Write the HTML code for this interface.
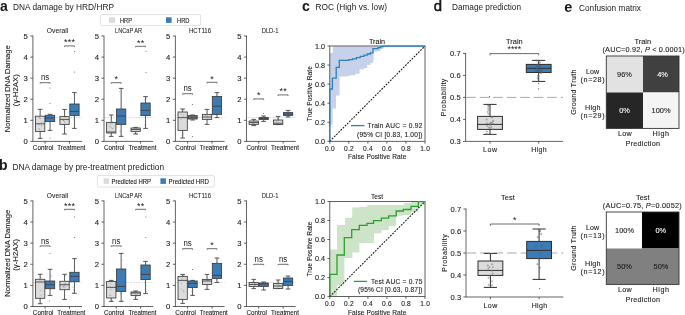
<!DOCTYPE html>
<html><head><meta charset="utf-8"><style>
html,body{margin:0;padding:0;background:#fff;width:685px;height:315px;overflow:hidden}
svg{display:block;will-change:transform;font-family:"Liberation Sans", sans-serif}
</style></head><body>
<svg width="685" height="315" viewBox="0 0 685 315" font-family='"Liberation Sans", sans-serif' fill="#1a1a1a">
<text x="0.00" y="10.80" font-size="14" font-weight="bold">a</text>
<text x="13.00" y="10.40" font-size="8.3" textLength="101" lengthAdjust="spacing">DNA damage by HRD/HRP</text>
<text x="-0.90" y="170.00" font-size="14" font-weight="bold">b</text>
<text x="12.40" y="170.40" font-size="8.3" textLength="151.6" lengthAdjust="spacing">DNA damage by pre-treatment prediction</text>
<text x="302.00" y="10.90" font-size="14.2" font-weight="bold">c</text>
<text x="315.60" y="10.40" font-size="8.3" textLength="71.4" lengthAdjust="spacing">ROC (High vs. low)</text>
<text x="433.70" y="10.50" font-size="14.9" style="stroke:#1a1a1a;stroke-width:0.55">d</text>
<text x="452.00" y="10.40" font-size="8.3" textLength="69" lengthAdjust="spacingAndGlyphs">Damage prediction</text>
<text x="564.20" y="11.90" font-size="14.4" font-weight="bold">e</text>
<text x="579.00" y="10.80" font-size="8.3" textLength="62" lengthAdjust="spacingAndGlyphs">Confusion matrix</text>
<rect x="100.40" y="14.60" width="100.20" height="11.00" fill="#ffffff" stroke="#cccccc" stroke-width="0.6" rx="1.2"/>
<rect x="109.00" y="17.30" width="6.00" height="5.60" fill="#dcdcdc"/>
<text x="120.00" y="22.80" font-size="6.3" stroke="#1a1a1a" stroke-width="0.1" textLength="12" lengthAdjust="spacingAndGlyphs">HRP</text>
<rect x="166.00" y="17.30" width="5.60" height="5.60" fill="#3b7cb6"/>
<text x="177.00" y="22.80" font-size="6.3" stroke="#1a1a1a" stroke-width="0.1" textLength="12.4" lengthAdjust="spacingAndGlyphs">HRD</text>
<rect x="97.40" y="175.60" width="117.00" height="11.40" fill="#ffffff" stroke="#cccccc" stroke-width="0.6" rx="1.2"/>
<rect x="103.60" y="178.30" width="5.40" height="5.60" fill="#dcdcdc"/>
<text x="111.60" y="183.50" font-size="6.5" stroke="#1a1a1a" stroke-width="0.1" textLength="39.4" lengthAdjust="spacingAndGlyphs">Predicted HRP</text>
<rect x="160.40" y="178.30" width="5.50" height="5.60" fill="#3b7cb6"/>
<text x="168.60" y="183.50" font-size="6.5" stroke="#1a1a1a" stroke-width="0.1" textLength="40.4" lengthAdjust="spacingAndGlyphs">Predicted HRD</text>
<text x="9.70" y="88.70" font-size="7.8" stroke="#1a1a1a" stroke-width="0.1" text-anchor="middle" textLength="87" lengthAdjust="spacingAndGlyphs" transform="rotate(-90 9.70 88.70)">Normalized DNA Damage</text>
<text x="17.90" y="90.20" font-size="7.8" stroke="#1a1a1a" stroke-width="0.1" text-anchor="middle" textLength="32" lengthAdjust="spacingAndGlyphs" transform="rotate(-90 17.90 90.20)">(γ-H2AX)</text>
<text x="9.70" y="253.30" font-size="7.8" stroke="#1a1a1a" stroke-width="0.1" text-anchor="middle" textLength="87" lengthAdjust="spacingAndGlyphs" transform="rotate(-90 9.70 253.30)">Normalized DNA Damage</text>
<text x="17.90" y="254.80" font-size="7.8" stroke="#1a1a1a" stroke-width="0.1" text-anchor="middle" textLength="32" lengthAdjust="spacingAndGlyphs" transform="rotate(-90 17.90 254.80)">(γ-H2AX)</text>
<line x1="32.90" y1="35.60" x2="32.90" y2="141.40" stroke="#3c3c3c" stroke-width="0.8"/>
<line x1="32.50" y1="141.40" x2="82.10" y2="141.40" stroke="#3c3c3c" stroke-width="0.8"/>
<line x1="30.30" y1="141.40" x2="32.90" y2="141.40" stroke="#3c3c3c" stroke-width="0.8"/>
<text x="27.90" y="144.25" font-size="7.7" stroke="#1a1a1a" stroke-width="0.1" text-anchor="end">0</text>
<line x1="30.30" y1="120.32" x2="32.90" y2="120.32" stroke="#3c3c3c" stroke-width="0.8"/>
<text x="27.90" y="123.17" font-size="7.7" stroke="#1a1a1a" stroke-width="0.1" text-anchor="end">1</text>
<line x1="30.30" y1="99.24" x2="32.90" y2="99.24" stroke="#3c3c3c" stroke-width="0.8"/>
<text x="27.90" y="102.09" font-size="7.7" stroke="#1a1a1a" stroke-width="0.1" text-anchor="end">2</text>
<line x1="30.30" y1="78.16" x2="32.90" y2="78.16" stroke="#3c3c3c" stroke-width="0.8"/>
<text x="27.90" y="81.01" font-size="7.7" stroke="#1a1a1a" stroke-width="0.1" text-anchor="end">3</text>
<line x1="30.30" y1="57.08" x2="32.90" y2="57.08" stroke="#3c3c3c" stroke-width="0.8"/>
<text x="27.90" y="59.93" font-size="7.7" stroke="#1a1a1a" stroke-width="0.1" text-anchor="end">4</text>
<line x1="30.30" y1="36.00" x2="32.90" y2="36.00" stroke="#3c3c3c" stroke-width="0.8"/>
<text x="27.90" y="38.85" font-size="7.7" stroke="#1a1a1a" stroke-width="0.1" text-anchor="end">5</text>
<line x1="45.10" y1="141.40" x2="45.10" y2="143.60" stroke="#3c3c3c" stroke-width="0.8"/>
<line x1="69.50" y1="141.40" x2="69.50" y2="143.60" stroke="#3c3c3c" stroke-width="0.8"/>
<text x="57.50" y="33.40" font-size="6.9" text-anchor="middle" textLength="21.3" lengthAdjust="spacingAndGlyphs" stroke="#1a1a1a" stroke-width="0.05">Overall</text>
<line x1="33.90" y1="117.50" x2="82.10" y2="117.50" stroke="#c4c4c4" stroke-width="0.7" stroke-dasharray="1.5,1.3"/>
<line x1="40.15" y1="109.30" x2="40.15" y2="116.20" stroke="#3c3c3c" stroke-width="0.85"/>
<line x1="40.15" y1="131.50" x2="40.15" y2="138.40" stroke="#3c3c3c" stroke-width="0.85"/>
<line x1="37.82" y1="109.30" x2="42.47" y2="109.30" stroke="#3c3c3c" stroke-width="0.85"/>
<line x1="37.82" y1="138.40" x2="42.47" y2="138.40" stroke="#3c3c3c" stroke-width="0.85"/>
<rect x="35.50" y="116.20" width="9.30" height="15.30" fill="#dcdcdc" stroke="#3c3c3c" stroke-width="0.85"/>
<line x1="35.50" y1="123.80" x2="44.80" y2="123.80" stroke="#3c3c3c" stroke-width="0.85"/>
<line x1="50.05" y1="114.30" x2="50.05" y2="115.30" stroke="#3c3c3c" stroke-width="0.85"/>
<line x1="50.05" y1="121.60" x2="50.05" y2="130.40" stroke="#3c3c3c" stroke-width="0.85"/>
<line x1="47.72" y1="114.30" x2="52.38" y2="114.30" stroke="#3c3c3c" stroke-width="0.85"/>
<line x1="47.72" y1="130.40" x2="52.38" y2="130.40" stroke="#3c3c3c" stroke-width="0.85"/>
<rect x="45.40" y="115.30" width="9.30" height="6.30" fill="#3b7cb6" stroke="#3c3c3c" stroke-width="0.85"/>
<line x1="45.40" y1="118.00" x2="54.70" y2="118.00" stroke="#3c3c3c" stroke-width="0.85"/>
<circle cx="40.60" cy="118.51" r="0.5" fill="#666" fill-opacity="0.55"/>
<circle cx="39.75" cy="124.40" r="0.5" fill="#666" fill-opacity="0.55"/>
<circle cx="38.76" cy="123.96" r="0.5" fill="#666" fill-opacity="0.55"/>
<circle cx="38.92" cy="117.27" r="0.5" fill="#666" fill-opacity="0.55"/>
<circle cx="39.02" cy="128.85" r="0.5" fill="#666" fill-opacity="0.55"/>
<circle cx="41.49" cy="125.80" r="0.5" fill="#666" fill-opacity="0.55"/>
<circle cx="41.58" cy="122.27" r="0.5" fill="#666" fill-opacity="0.55"/>
<circle cx="39.52" cy="129.33" r="0.5" fill="#666" fill-opacity="0.55"/>
<circle cx="39.58" cy="118.00" r="0.5" fill="#666" fill-opacity="0.55"/>
<circle cx="50.29" cy="114.48" r="0.5" fill="#666" fill-opacity="0.55"/>
<circle cx="50.19" cy="117.65" r="0.5" fill="#666" fill-opacity="0.55"/>
<circle cx="49.17" cy="115.68" r="0.5" fill="#666" fill-opacity="0.55"/>
<circle cx="49.49" cy="117.99" r="0.5" fill="#666" fill-opacity="0.55"/>
<circle cx="49.45" cy="118.16" r="0.5" fill="#666" fill-opacity="0.55"/>
<circle cx="49.28" cy="115.00" r="0.5" fill="#666" fill-opacity="0.55"/>
<circle cx="51.18" cy="118.61" r="0.5" fill="#666" fill-opacity="0.55"/>
<circle cx="51.49" cy="114.59" r="0.5" fill="#666" fill-opacity="0.55"/>
<circle cx="50.82" cy="117.93" r="0.5" fill="#666" fill-opacity="0.55"/>
<line x1="64.55" y1="109.40" x2="64.55" y2="116.60" stroke="#3c3c3c" stroke-width="0.85"/>
<line x1="64.55" y1="124.40" x2="64.55" y2="134.00" stroke="#3c3c3c" stroke-width="0.85"/>
<line x1="62.22" y1="109.40" x2="66.88" y2="109.40" stroke="#3c3c3c" stroke-width="0.85"/>
<line x1="62.22" y1="134.00" x2="66.88" y2="134.00" stroke="#3c3c3c" stroke-width="0.85"/>
<rect x="59.90" y="116.60" width="9.30" height="7.80" fill="#dcdcdc" stroke="#3c3c3c" stroke-width="0.85"/>
<line x1="59.90" y1="119.40" x2="69.20" y2="119.40" stroke="#3c3c3c" stroke-width="0.85"/>
<line x1="74.45" y1="92.60" x2="74.45" y2="104.00" stroke="#3c3c3c" stroke-width="0.85"/>
<line x1="74.45" y1="115.60" x2="74.45" y2="128.40" stroke="#3c3c3c" stroke-width="0.85"/>
<line x1="72.12" y1="92.60" x2="76.77" y2="92.60" stroke="#3c3c3c" stroke-width="0.85"/>
<line x1="72.12" y1="128.40" x2="76.77" y2="128.40" stroke="#3c3c3c" stroke-width="0.85"/>
<rect x="69.80" y="104.00" width="9.30" height="11.60" fill="#3b7cb6" stroke="#3c3c3c" stroke-width="0.85"/>
<line x1="69.80" y1="111.40" x2="79.10" y2="111.40" stroke="#3c3c3c" stroke-width="0.85"/>
<circle cx="63.17" cy="120.41" r="0.5" fill="#666" fill-opacity="0.55"/>
<circle cx="64.77" cy="122.56" r="0.5" fill="#666" fill-opacity="0.55"/>
<circle cx="65.14" cy="127.41" r="0.5" fill="#666" fill-opacity="0.55"/>
<circle cx="64.42" cy="121.12" r="0.5" fill="#666" fill-opacity="0.55"/>
<circle cx="64.47" cy="116.20" r="0.5" fill="#666" fill-opacity="0.55"/>
<circle cx="65.15" cy="117.07" r="0.5" fill="#666" fill-opacity="0.55"/>
<circle cx="65.52" cy="124.35" r="0.5" fill="#666" fill-opacity="0.55"/>
<circle cx="65.06" cy="119.61" r="0.5" fill="#666" fill-opacity="0.55"/>
<circle cx="63.55" cy="120.20" r="0.5" fill="#666" fill-opacity="0.55"/>
<circle cx="75.25" cy="104.68" r="0.5" fill="#666" fill-opacity="0.55"/>
<circle cx="74.12" cy="106.87" r="0.5" fill="#666" fill-opacity="0.55"/>
<circle cx="74.30" cy="116.63" r="0.5" fill="#666" fill-opacity="0.55"/>
<circle cx="75.41" cy="114.25" r="0.5" fill="#666" fill-opacity="0.55"/>
<circle cx="74.20" cy="119.16" r="0.5" fill="#666" fill-opacity="0.55"/>
<circle cx="75.82" cy="114.26" r="0.5" fill="#666" fill-opacity="0.55"/>
<circle cx="73.65" cy="106.04" r="0.5" fill="#666" fill-opacity="0.55"/>
<circle cx="74.72" cy="109.63" r="0.5" fill="#666" fill-opacity="0.55"/>
<circle cx="74.21" cy="104.05" r="0.5" fill="#666" fill-opacity="0.55"/>
<circle cx="50.00" cy="88.00" r="0.5" fill="#555"/>
<circle cx="50.00" cy="103.60" r="0.5" fill="#555"/>
<circle cx="50.00" cy="138.00" r="0.5" fill="#555"/>
<circle cx="74.60" cy="72.00" r="0.5" fill="#555"/>
<circle cx="74.60" cy="51.60" r="0.5" fill="#555"/>
<polyline points="40.15,83.70 40.15,82.70 50.05,82.70 50.05,83.70" fill="none" stroke="#3c3c3c" stroke-width="0.75"/>
<text x="45.10" y="80.30" font-size="8.4" text-anchor="middle" textLength="8.3" lengthAdjust="spacingAndGlyphs">ns</text>
<polyline points="64.55,46.90 64.55,45.90 74.45,45.90 74.45,46.90" fill="none" stroke="#3c3c3c" stroke-width="0.75"/>
<text x="69.50" y="45.40" font-size="9" text-anchor="middle" textLength="11.100000000000001" lengthAdjust="spacing">***</text>
<text x="43.10" y="149.80" font-size="6.3" stroke="#1a1a1a" stroke-width="0.1" text-anchor="middle" textLength="20.6" lengthAdjust="spacing">Control</text>
<text x="71.30" y="149.80" font-size="6.3" stroke="#1a1a1a" stroke-width="0.1" text-anchor="middle" textLength="28" lengthAdjust="spacingAndGlyphs">Treatment</text>
<line x1="104.00" y1="35.60" x2="104.00" y2="141.40" stroke="#3c3c3c" stroke-width="0.8"/>
<line x1="103.60" y1="141.40" x2="153.20" y2="141.40" stroke="#3c3c3c" stroke-width="0.8"/>
<line x1="101.40" y1="141.40" x2="104.00" y2="141.40" stroke="#3c3c3c" stroke-width="0.8"/>
<text x="99.00" y="144.25" font-size="7.7" stroke="#1a1a1a" stroke-width="0.1" text-anchor="end">0</text>
<line x1="101.40" y1="120.32" x2="104.00" y2="120.32" stroke="#3c3c3c" stroke-width="0.8"/>
<text x="99.00" y="123.17" font-size="7.7" stroke="#1a1a1a" stroke-width="0.1" text-anchor="end">1</text>
<line x1="101.40" y1="99.24" x2="104.00" y2="99.24" stroke="#3c3c3c" stroke-width="0.8"/>
<text x="99.00" y="102.09" font-size="7.7" stroke="#1a1a1a" stroke-width="0.1" text-anchor="end">2</text>
<line x1="101.40" y1="78.16" x2="104.00" y2="78.16" stroke="#3c3c3c" stroke-width="0.8"/>
<text x="99.00" y="81.01" font-size="7.7" stroke="#1a1a1a" stroke-width="0.1" text-anchor="end">3</text>
<line x1="101.40" y1="57.08" x2="104.00" y2="57.08" stroke="#3c3c3c" stroke-width="0.8"/>
<text x="99.00" y="59.93" font-size="7.7" stroke="#1a1a1a" stroke-width="0.1" text-anchor="end">4</text>
<line x1="101.40" y1="36.00" x2="104.00" y2="36.00" stroke="#3c3c3c" stroke-width="0.8"/>
<text x="99.00" y="38.85" font-size="7.7" stroke="#1a1a1a" stroke-width="0.1" text-anchor="end">5</text>
<line x1="116.20" y1="141.40" x2="116.20" y2="143.60" stroke="#3c3c3c" stroke-width="0.8"/>
<line x1="140.60" y1="141.40" x2="140.60" y2="143.60" stroke="#3c3c3c" stroke-width="0.8"/>
<text x="128.60" y="33.40" font-size="6.9" text-anchor="middle" textLength="27" lengthAdjust="spacingAndGlyphs" stroke="#1a1a1a" stroke-width="0.05">LNCaP AR</text>
<line x1="105.00" y1="117.50" x2="153.20" y2="117.50" stroke="#c4c4c4" stroke-width="0.7" stroke-dasharray="1.5,1.3"/>
<line x1="111.25" y1="115.00" x2="111.25" y2="122.40" stroke="#3c3c3c" stroke-width="0.85"/>
<line x1="111.25" y1="133.00" x2="111.25" y2="136.40" stroke="#3c3c3c" stroke-width="0.85"/>
<line x1="108.92" y1="115.00" x2="113.58" y2="115.00" stroke="#3c3c3c" stroke-width="0.85"/>
<line x1="108.92" y1="136.40" x2="113.58" y2="136.40" stroke="#3c3c3c" stroke-width="0.85"/>
<rect x="106.60" y="122.40" width="9.30" height="10.60" fill="#dcdcdc" stroke="#3c3c3c" stroke-width="0.85"/>
<line x1="106.60" y1="132.00" x2="115.90" y2="132.00" stroke="#3c3c3c" stroke-width="0.85"/>
<line x1="121.15" y1="88.40" x2="121.15" y2="109.00" stroke="#3c3c3c" stroke-width="0.85"/>
<line x1="121.15" y1="124.40" x2="121.15" y2="136.40" stroke="#3c3c3c" stroke-width="0.85"/>
<line x1="118.83" y1="88.40" x2="123.48" y2="88.40" stroke="#3c3c3c" stroke-width="0.85"/>
<line x1="118.83" y1="136.40" x2="123.48" y2="136.40" stroke="#3c3c3c" stroke-width="0.85"/>
<rect x="116.50" y="109.00" width="9.30" height="15.40" fill="#3b7cb6" stroke="#3c3c3c" stroke-width="0.85"/>
<line x1="116.50" y1="116.00" x2="125.80" y2="116.00" stroke="#3c3c3c" stroke-width="0.85"/>
<circle cx="112.61" cy="128.40" r="0.5" fill="#666" fill-opacity="0.55"/>
<circle cx="111.60" cy="127.86" r="0.5" fill="#666" fill-opacity="0.55"/>
<circle cx="112.45" cy="122.97" r="0.5" fill="#666" fill-opacity="0.55"/>
<circle cx="112.14" cy="121.47" r="0.5" fill="#666" fill-opacity="0.55"/>
<circle cx="110.06" cy="126.63" r="0.5" fill="#666" fill-opacity="0.55"/>
<circle cx="109.95" cy="123.06" r="0.5" fill="#666" fill-opacity="0.55"/>
<circle cx="110.77" cy="124.12" r="0.5" fill="#666" fill-opacity="0.55"/>
<circle cx="110.20" cy="122.40" r="0.5" fill="#666" fill-opacity="0.55"/>
<circle cx="109.83" cy="126.25" r="0.5" fill="#666" fill-opacity="0.55"/>
<circle cx="120.10" cy="131.77" r="0.5" fill="#666" fill-opacity="0.55"/>
<circle cx="120.74" cy="114.35" r="0.5" fill="#666" fill-opacity="0.55"/>
<circle cx="122.63" cy="122.07" r="0.5" fill="#666" fill-opacity="0.55"/>
<circle cx="119.91" cy="116.45" r="0.5" fill="#666" fill-opacity="0.55"/>
<circle cx="120.44" cy="114.28" r="0.5" fill="#666" fill-opacity="0.55"/>
<circle cx="119.72" cy="91.73" r="0.5" fill="#666" fill-opacity="0.55"/>
<circle cx="120.09" cy="130.74" r="0.5" fill="#666" fill-opacity="0.55"/>
<circle cx="121.23" cy="109.42" r="0.5" fill="#666" fill-opacity="0.55"/>
<circle cx="121.74" cy="134.76" r="0.5" fill="#666" fill-opacity="0.55"/>
<line x1="135.65" y1="127.40" x2="135.65" y2="128.00" stroke="#3c3c3c" stroke-width="0.85"/>
<line x1="135.65" y1="131.40" x2="135.65" y2="134.00" stroke="#3c3c3c" stroke-width="0.85"/>
<line x1="133.32" y1="127.40" x2="137.97" y2="127.40" stroke="#3c3c3c" stroke-width="0.85"/>
<line x1="133.32" y1="134.00" x2="137.97" y2="134.00" stroke="#3c3c3c" stroke-width="0.85"/>
<rect x="131.00" y="128.00" width="9.30" height="3.40" fill="#dcdcdc" stroke="#3c3c3c" stroke-width="0.85"/>
<line x1="131.00" y1="129.50" x2="140.30" y2="129.50" stroke="#3c3c3c" stroke-width="0.85"/>
<line x1="145.55" y1="96.60" x2="145.55" y2="103.00" stroke="#3c3c3c" stroke-width="0.85"/>
<line x1="145.55" y1="115.60" x2="145.55" y2="128.40" stroke="#3c3c3c" stroke-width="0.85"/>
<line x1="143.23" y1="96.60" x2="147.88" y2="96.60" stroke="#3c3c3c" stroke-width="0.85"/>
<line x1="143.23" y1="128.40" x2="147.88" y2="128.40" stroke="#3c3c3c" stroke-width="0.85"/>
<rect x="140.90" y="103.00" width="9.30" height="12.60" fill="#3b7cb6" stroke="#3c3c3c" stroke-width="0.85"/>
<line x1="140.90" y1="110.40" x2="150.20" y2="110.40" stroke="#3c3c3c" stroke-width="0.85"/>
<circle cx="134.65" cy="129.25" r="0.5" fill="#666" fill-opacity="0.55"/>
<circle cx="136.49" cy="127.72" r="0.5" fill="#666" fill-opacity="0.55"/>
<circle cx="136.58" cy="128.76" r="0.5" fill="#666" fill-opacity="0.55"/>
<circle cx="136.57" cy="133.62" r="0.5" fill="#666" fill-opacity="0.55"/>
<circle cx="134.83" cy="127.84" r="0.5" fill="#666" fill-opacity="0.55"/>
<circle cx="134.24" cy="129.21" r="0.5" fill="#666" fill-opacity="0.55"/>
<circle cx="134.93" cy="128.95" r="0.5" fill="#666" fill-opacity="0.55"/>
<circle cx="135.49" cy="131.25" r="0.5" fill="#666" fill-opacity="0.55"/>
<circle cx="137.02" cy="133.97" r="0.5" fill="#666" fill-opacity="0.55"/>
<circle cx="144.73" cy="105.78" r="0.5" fill="#666" fill-opacity="0.55"/>
<circle cx="145.92" cy="105.58" r="0.5" fill="#666" fill-opacity="0.55"/>
<circle cx="145.49" cy="126.36" r="0.5" fill="#666" fill-opacity="0.55"/>
<circle cx="144.30" cy="113.08" r="0.5" fill="#666" fill-opacity="0.55"/>
<circle cx="146.40" cy="114.46" r="0.5" fill="#666" fill-opacity="0.55"/>
<circle cx="144.59" cy="99.66" r="0.5" fill="#666" fill-opacity="0.55"/>
<circle cx="146.45" cy="98.73" r="0.5" fill="#666" fill-opacity="0.55"/>
<circle cx="145.25" cy="120.67" r="0.5" fill="#666" fill-opacity="0.55"/>
<circle cx="144.56" cy="124.88" r="0.5" fill="#666" fill-opacity="0.55"/>
<circle cx="146.00" cy="51.40" r="0.5" fill="#555"/>
<circle cx="146.00" cy="72.40" r="0.5" fill="#555"/>
<polyline points="111.25,83.70 111.25,82.70 121.15,82.70 121.15,83.70" fill="none" stroke="#3c3c3c" stroke-width="0.75"/>
<text x="116.20" y="82.20" font-size="9" text-anchor="middle" textLength="3.7" lengthAdjust="spacing">*</text>
<polyline points="135.65,47.30 135.65,46.30 145.55,46.30 145.55,47.30" fill="none" stroke="#3c3c3c" stroke-width="0.75"/>
<text x="140.60" y="45.80" font-size="9" text-anchor="middle" textLength="7.4" lengthAdjust="spacing">**</text>
<text x="114.20" y="149.80" font-size="6.3" stroke="#1a1a1a" stroke-width="0.1" text-anchor="middle" textLength="20.6" lengthAdjust="spacing">Control</text>
<text x="142.40" y="149.80" font-size="6.3" stroke="#1a1a1a" stroke-width="0.1" text-anchor="middle" textLength="28" lengthAdjust="spacingAndGlyphs">Treatment</text>
<line x1="175.40" y1="35.60" x2="175.40" y2="141.40" stroke="#3c3c3c" stroke-width="0.8"/>
<line x1="175.00" y1="141.40" x2="224.60" y2="141.40" stroke="#3c3c3c" stroke-width="0.8"/>
<line x1="172.80" y1="141.40" x2="175.40" y2="141.40" stroke="#3c3c3c" stroke-width="0.8"/>
<text x="170.40" y="144.25" font-size="7.7" stroke="#1a1a1a" stroke-width="0.1" text-anchor="end">0</text>
<line x1="172.80" y1="120.32" x2="175.40" y2="120.32" stroke="#3c3c3c" stroke-width="0.8"/>
<text x="170.40" y="123.17" font-size="7.7" stroke="#1a1a1a" stroke-width="0.1" text-anchor="end">1</text>
<line x1="172.80" y1="99.24" x2="175.40" y2="99.24" stroke="#3c3c3c" stroke-width="0.8"/>
<text x="170.40" y="102.09" font-size="7.7" stroke="#1a1a1a" stroke-width="0.1" text-anchor="end">2</text>
<line x1="172.80" y1="78.16" x2="175.40" y2="78.16" stroke="#3c3c3c" stroke-width="0.8"/>
<text x="170.40" y="81.01" font-size="7.7" stroke="#1a1a1a" stroke-width="0.1" text-anchor="end">3</text>
<line x1="172.80" y1="57.08" x2="175.40" y2="57.08" stroke="#3c3c3c" stroke-width="0.8"/>
<text x="170.40" y="59.93" font-size="7.7" stroke="#1a1a1a" stroke-width="0.1" text-anchor="end">4</text>
<line x1="172.80" y1="36.00" x2="175.40" y2="36.00" stroke="#3c3c3c" stroke-width="0.8"/>
<text x="170.40" y="38.85" font-size="7.7" stroke="#1a1a1a" stroke-width="0.1" text-anchor="end">5</text>
<line x1="187.60" y1="141.40" x2="187.60" y2="143.60" stroke="#3c3c3c" stroke-width="0.8"/>
<line x1="212.00" y1="141.40" x2="212.00" y2="143.60" stroke="#3c3c3c" stroke-width="0.8"/>
<text x="200.00" y="33.40" font-size="6.9" text-anchor="middle" textLength="22" lengthAdjust="spacingAndGlyphs" stroke="#1a1a1a" stroke-width="0.05">HCT116</text>
<line x1="176.40" y1="117.50" x2="224.60" y2="117.50" stroke="#c4c4c4" stroke-width="0.7" stroke-dasharray="1.5,1.3"/>
<line x1="182.65" y1="109.00" x2="182.65" y2="112.00" stroke="#3c3c3c" stroke-width="0.85"/>
<line x1="182.65" y1="130.40" x2="182.65" y2="138.00" stroke="#3c3c3c" stroke-width="0.85"/>
<line x1="180.32" y1="109.00" x2="184.97" y2="109.00" stroke="#3c3c3c" stroke-width="0.85"/>
<line x1="180.32" y1="138.00" x2="184.97" y2="138.00" stroke="#3c3c3c" stroke-width="0.85"/>
<rect x="178.00" y="112.00" width="9.30" height="18.40" fill="#dcdcdc" stroke="#3c3c3c" stroke-width="0.85"/>
<line x1="178.00" y1="117.60" x2="187.30" y2="117.60" stroke="#3c3c3c" stroke-width="0.85"/>
<line x1="192.55" y1="115.00" x2="192.55" y2="115.60" stroke="#3c3c3c" stroke-width="0.85"/>
<line x1="192.55" y1="119.00" x2="192.55" y2="120.00" stroke="#3c3c3c" stroke-width="0.85"/>
<line x1="190.23" y1="115.00" x2="194.88" y2="115.00" stroke="#3c3c3c" stroke-width="0.85"/>
<line x1="190.23" y1="120.00" x2="194.88" y2="120.00" stroke="#3c3c3c" stroke-width="0.85"/>
<rect x="187.90" y="115.60" width="9.30" height="3.40" fill="#7a828c" stroke="#3c3c3c" stroke-width="0.85"/>
<line x1="187.90" y1="117.20" x2="197.20" y2="117.20" stroke="#3c3c3c" stroke-width="0.85"/>
<circle cx="183.86" cy="114.78" r="0.5" fill="#666" fill-opacity="0.55"/>
<circle cx="183.63" cy="109.44" r="0.5" fill="#666" fill-opacity="0.55"/>
<circle cx="182.20" cy="135.40" r="0.5" fill="#666" fill-opacity="0.55"/>
<circle cx="181.19" cy="114.41" r="0.5" fill="#666" fill-opacity="0.55"/>
<circle cx="182.73" cy="135.34" r="0.5" fill="#666" fill-opacity="0.55"/>
<circle cx="183.77" cy="133.70" r="0.5" fill="#666" fill-opacity="0.55"/>
<circle cx="181.91" cy="109.63" r="0.5" fill="#666" fill-opacity="0.55"/>
<circle cx="182.91" cy="116.43" r="0.5" fill="#666" fill-opacity="0.55"/>
<circle cx="181.54" cy="119.71" r="0.5" fill="#666" fill-opacity="0.55"/>
<circle cx="192.42" cy="119.35" r="0.5" fill="#666" fill-opacity="0.55"/>
<circle cx="192.31" cy="118.67" r="0.5" fill="#666" fill-opacity="0.55"/>
<circle cx="192.65" cy="119.50" r="0.5" fill="#666" fill-opacity="0.55"/>
<circle cx="192.37" cy="115.66" r="0.5" fill="#666" fill-opacity="0.55"/>
<circle cx="193.45" cy="115.61" r="0.5" fill="#666" fill-opacity="0.55"/>
<circle cx="193.23" cy="117.21" r="0.5" fill="#666" fill-opacity="0.55"/>
<circle cx="192.61" cy="116.71" r="0.5" fill="#666" fill-opacity="0.55"/>
<circle cx="191.37" cy="118.27" r="0.5" fill="#666" fill-opacity="0.55"/>
<circle cx="191.88" cy="116.44" r="0.5" fill="#666" fill-opacity="0.55"/>
<line x1="207.05" y1="109.40" x2="207.05" y2="114.40" stroke="#3c3c3c" stroke-width="0.85"/>
<line x1="207.05" y1="119.40" x2="207.05" y2="124.40" stroke="#3c3c3c" stroke-width="0.85"/>
<line x1="204.73" y1="109.40" x2="209.38" y2="109.40" stroke="#3c3c3c" stroke-width="0.85"/>
<line x1="204.73" y1="124.40" x2="209.38" y2="124.40" stroke="#3c3c3c" stroke-width="0.85"/>
<rect x="202.40" y="114.40" width="9.30" height="5.00" fill="#dcdcdc" stroke="#3c3c3c" stroke-width="0.85"/>
<line x1="202.40" y1="117.00" x2="211.70" y2="117.00" stroke="#3c3c3c" stroke-width="0.85"/>
<line x1="216.95" y1="92.60" x2="216.95" y2="96.40" stroke="#3c3c3c" stroke-width="0.85"/>
<line x1="216.95" y1="114.40" x2="216.95" y2="117.60" stroke="#3c3c3c" stroke-width="0.85"/>
<line x1="214.62" y1="92.60" x2="219.27" y2="92.60" stroke="#3c3c3c" stroke-width="0.85"/>
<line x1="214.62" y1="117.60" x2="219.27" y2="117.60" stroke="#3c3c3c" stroke-width="0.85"/>
<rect x="212.30" y="96.40" width="9.30" height="18.00" fill="#3b7cb6" stroke="#3c3c3c" stroke-width="0.85"/>
<line x1="212.30" y1="106.20" x2="221.60" y2="106.20" stroke="#3c3c3c" stroke-width="0.85"/>
<circle cx="207.24" cy="111.94" r="0.5" fill="#666" fill-opacity="0.55"/>
<circle cx="206.88" cy="113.96" r="0.5" fill="#666" fill-opacity="0.55"/>
<circle cx="207.09" cy="116.93" r="0.5" fill="#666" fill-opacity="0.55"/>
<circle cx="207.15" cy="116.66" r="0.5" fill="#666" fill-opacity="0.55"/>
<circle cx="207.65" cy="119.11" r="0.5" fill="#666" fill-opacity="0.55"/>
<circle cx="206.33" cy="124.11" r="0.5" fill="#666" fill-opacity="0.55"/>
<circle cx="208.07" cy="119.12" r="0.5" fill="#666" fill-opacity="0.55"/>
<circle cx="206.88" cy="115.01" r="0.5" fill="#666" fill-opacity="0.55"/>
<circle cx="205.77" cy="115.60" r="0.5" fill="#666" fill-opacity="0.55"/>
<circle cx="218.14" cy="110.51" r="0.5" fill="#666" fill-opacity="0.55"/>
<circle cx="217.43" cy="109.29" r="0.5" fill="#666" fill-opacity="0.55"/>
<circle cx="218.35" cy="112.29" r="0.5" fill="#666" fill-opacity="0.55"/>
<circle cx="216.64" cy="113.55" r="0.5" fill="#666" fill-opacity="0.55"/>
<circle cx="217.95" cy="114.22" r="0.5" fill="#666" fill-opacity="0.55"/>
<circle cx="217.00" cy="104.17" r="0.5" fill="#666" fill-opacity="0.55"/>
<circle cx="216.41" cy="99.92" r="0.5" fill="#666" fill-opacity="0.55"/>
<circle cx="217.11" cy="92.67" r="0.5" fill="#666" fill-opacity="0.55"/>
<circle cx="216.44" cy="96.73" r="0.5" fill="#666" fill-opacity="0.55"/>
<circle cx="192.40" cy="104.40" r="0.5" fill="#555"/>
<circle cx="192.40" cy="136.60" r="0.5" fill="#555"/>
<polyline points="182.65,94.70 182.65,93.70 192.55,93.70 192.55,94.70" fill="none" stroke="#3c3c3c" stroke-width="0.75"/>
<text x="187.60" y="91.30" font-size="8.4" text-anchor="middle" textLength="8.3" lengthAdjust="spacingAndGlyphs">ns</text>
<polyline points="207.05,83.30 207.05,82.30 216.95,82.30 216.95,83.30" fill="none" stroke="#3c3c3c" stroke-width="0.75"/>
<text x="212.00" y="81.80" font-size="9" text-anchor="middle" textLength="3.7" lengthAdjust="spacing">*</text>
<text x="185.60" y="149.80" font-size="6.3" stroke="#1a1a1a" stroke-width="0.1" text-anchor="middle" textLength="20.6" lengthAdjust="spacing">Control</text>
<text x="213.80" y="149.80" font-size="6.3" stroke="#1a1a1a" stroke-width="0.1" text-anchor="middle" textLength="28" lengthAdjust="spacingAndGlyphs">Treatment</text>
<line x1="246.50" y1="35.60" x2="246.50" y2="141.40" stroke="#3c3c3c" stroke-width="0.8"/>
<line x1="246.10" y1="141.40" x2="295.70" y2="141.40" stroke="#3c3c3c" stroke-width="0.8"/>
<line x1="243.90" y1="141.40" x2="246.50" y2="141.40" stroke="#3c3c3c" stroke-width="0.8"/>
<text x="241.50" y="144.25" font-size="7.7" stroke="#1a1a1a" stroke-width="0.1" text-anchor="end">0</text>
<line x1="243.90" y1="120.32" x2="246.50" y2="120.32" stroke="#3c3c3c" stroke-width="0.8"/>
<text x="241.50" y="123.17" font-size="7.7" stroke="#1a1a1a" stroke-width="0.1" text-anchor="end">1</text>
<line x1="243.90" y1="99.24" x2="246.50" y2="99.24" stroke="#3c3c3c" stroke-width="0.8"/>
<text x="241.50" y="102.09" font-size="7.7" stroke="#1a1a1a" stroke-width="0.1" text-anchor="end">2</text>
<line x1="243.90" y1="78.16" x2="246.50" y2="78.16" stroke="#3c3c3c" stroke-width="0.8"/>
<text x="241.50" y="81.01" font-size="7.7" stroke="#1a1a1a" stroke-width="0.1" text-anchor="end">3</text>
<line x1="243.90" y1="57.08" x2="246.50" y2="57.08" stroke="#3c3c3c" stroke-width="0.8"/>
<text x="241.50" y="59.93" font-size="7.7" stroke="#1a1a1a" stroke-width="0.1" text-anchor="end">4</text>
<line x1="243.90" y1="36.00" x2="246.50" y2="36.00" stroke="#3c3c3c" stroke-width="0.8"/>
<text x="241.50" y="38.85" font-size="7.7" stroke="#1a1a1a" stroke-width="0.1" text-anchor="end">5</text>
<line x1="258.70" y1="141.40" x2="258.70" y2="143.60" stroke="#3c3c3c" stroke-width="0.8"/>
<line x1="283.10" y1="141.40" x2="283.10" y2="143.60" stroke="#3c3c3c" stroke-width="0.8"/>
<text x="270.10" y="33.40" font-size="6.9" text-anchor="middle" textLength="16.8" lengthAdjust="spacingAndGlyphs" stroke="#1a1a1a" stroke-width="0.05">DLD-1</text>
<line x1="247.50" y1="117.50" x2="295.70" y2="117.50" stroke="#c4c4c4" stroke-width="0.7" stroke-dasharray="1.5,1.3"/>
<line x1="253.75" y1="119.40" x2="253.75" y2="121.00" stroke="#3c3c3c" stroke-width="0.85"/>
<line x1="253.75" y1="124.40" x2="253.75" y2="125.60" stroke="#3c3c3c" stroke-width="0.85"/>
<line x1="251.43" y1="119.40" x2="256.07" y2="119.40" stroke="#3c3c3c" stroke-width="0.85"/>
<line x1="251.43" y1="125.60" x2="256.07" y2="125.60" stroke="#3c3c3c" stroke-width="0.85"/>
<rect x="249.10" y="121.00" width="9.30" height="3.40" fill="#dcdcdc" stroke="#3c3c3c" stroke-width="0.85"/>
<line x1="249.10" y1="122.50" x2="258.40" y2="122.50" stroke="#3c3c3c" stroke-width="0.85"/>
<line x1="263.65" y1="116.00" x2="263.65" y2="117.60" stroke="#3c3c3c" stroke-width="0.85"/>
<line x1="263.65" y1="119.40" x2="263.65" y2="121.40" stroke="#3c3c3c" stroke-width="0.85"/>
<line x1="261.32" y1="116.00" x2="265.97" y2="116.00" stroke="#3c3c3c" stroke-width="0.85"/>
<line x1="261.32" y1="121.40" x2="265.97" y2="121.40" stroke="#3c3c3c" stroke-width="0.85"/>
<rect x="259.00" y="117.60" width="9.30" height="1.80" fill="#3b7cb6" stroke="#3c3c3c" stroke-width="0.85"/>
<line x1="259.00" y1="118.50" x2="268.30" y2="118.50" stroke="#3c3c3c" stroke-width="0.85"/>
<circle cx="252.44" cy="122.74" r="0.5" fill="#666" fill-opacity="0.55"/>
<circle cx="255.17" cy="125.35" r="0.5" fill="#666" fill-opacity="0.55"/>
<circle cx="252.37" cy="121.90" r="0.5" fill="#666" fill-opacity="0.55"/>
<circle cx="252.64" cy="119.83" r="0.5" fill="#666" fill-opacity="0.55"/>
<circle cx="254.71" cy="124.10" r="0.5" fill="#666" fill-opacity="0.55"/>
<circle cx="255.01" cy="121.51" r="0.5" fill="#666" fill-opacity="0.55"/>
<circle cx="252.52" cy="123.38" r="0.5" fill="#666" fill-opacity="0.55"/>
<circle cx="253.53" cy="123.34" r="0.5" fill="#666" fill-opacity="0.55"/>
<circle cx="254.15" cy="124.19" r="0.5" fill="#666" fill-opacity="0.55"/>
<circle cx="264.72" cy="116.13" r="0.5" fill="#666" fill-opacity="0.55"/>
<circle cx="263.51" cy="119.15" r="0.5" fill="#666" fill-opacity="0.55"/>
<circle cx="264.93" cy="118.60" r="0.5" fill="#666" fill-opacity="0.55"/>
<circle cx="263.73" cy="117.83" r="0.5" fill="#666" fill-opacity="0.55"/>
<circle cx="262.63" cy="117.80" r="0.5" fill="#666" fill-opacity="0.55"/>
<circle cx="263.09" cy="117.96" r="0.5" fill="#666" fill-opacity="0.55"/>
<circle cx="263.02" cy="118.97" r="0.5" fill="#666" fill-opacity="0.55"/>
<circle cx="263.19" cy="117.92" r="0.5" fill="#666" fill-opacity="0.55"/>
<circle cx="262.20" cy="118.05" r="0.5" fill="#666" fill-opacity="0.55"/>
<line x1="278.15" y1="116.40" x2="278.15" y2="120.00" stroke="#3c3c3c" stroke-width="0.85"/>
<line x1="278.15" y1="124.40" x2="278.15" y2="124.60" stroke="#3c3c3c" stroke-width="0.85"/>
<line x1="275.82" y1="116.40" x2="280.47" y2="116.40" stroke="#3c3c3c" stroke-width="0.85"/>
<line x1="275.82" y1="124.60" x2="280.47" y2="124.60" stroke="#3c3c3c" stroke-width="0.85"/>
<rect x="273.50" y="120.00" width="9.30" height="4.40" fill="#dcdcdc" stroke="#3c3c3c" stroke-width="0.85"/>
<line x1="273.50" y1="123.20" x2="282.80" y2="123.20" stroke="#3c3c3c" stroke-width="0.85"/>
<line x1="288.05" y1="110.40" x2="288.05" y2="112.60" stroke="#3c3c3c" stroke-width="0.85"/>
<line x1="288.05" y1="115.40" x2="288.05" y2="117.00" stroke="#3c3c3c" stroke-width="0.85"/>
<line x1="285.72" y1="110.40" x2="290.37" y2="110.40" stroke="#3c3c3c" stroke-width="0.85"/>
<line x1="285.72" y1="117.00" x2="290.37" y2="117.00" stroke="#3c3c3c" stroke-width="0.85"/>
<rect x="283.40" y="112.60" width="9.30" height="2.80" fill="#3b7cb6" stroke="#3c3c3c" stroke-width="0.85"/>
<line x1="283.40" y1="114.00" x2="292.70" y2="114.00" stroke="#3c3c3c" stroke-width="0.85"/>
<circle cx="277.22" cy="118.38" r="0.5" fill="#666" fill-opacity="0.55"/>
<circle cx="276.97" cy="124.11" r="0.5" fill="#666" fill-opacity="0.55"/>
<circle cx="278.14" cy="117.96" r="0.5" fill="#666" fill-opacity="0.55"/>
<circle cx="278.17" cy="117.82" r="0.5" fill="#666" fill-opacity="0.55"/>
<circle cx="277.68" cy="124.32" r="0.5" fill="#666" fill-opacity="0.55"/>
<circle cx="278.56" cy="118.94" r="0.5" fill="#666" fill-opacity="0.55"/>
<circle cx="276.81" cy="121.53" r="0.5" fill="#666" fill-opacity="0.55"/>
<circle cx="278.87" cy="120.31" r="0.5" fill="#666" fill-opacity="0.55"/>
<circle cx="276.90" cy="120.72" r="0.5" fill="#666" fill-opacity="0.55"/>
<circle cx="288.56" cy="112.32" r="0.5" fill="#666" fill-opacity="0.55"/>
<circle cx="287.43" cy="113.28" r="0.5" fill="#666" fill-opacity="0.55"/>
<circle cx="287.89" cy="113.04" r="0.5" fill="#666" fill-opacity="0.55"/>
<circle cx="289.47" cy="115.29" r="0.5" fill="#666" fill-opacity="0.55"/>
<circle cx="289.45" cy="113.28" r="0.5" fill="#666" fill-opacity="0.55"/>
<circle cx="286.55" cy="113.60" r="0.5" fill="#666" fill-opacity="0.55"/>
<circle cx="288.06" cy="113.93" r="0.5" fill="#666" fill-opacity="0.55"/>
<circle cx="286.56" cy="114.01" r="0.5" fill="#666" fill-opacity="0.55"/>
<circle cx="287.75" cy="112.85" r="0.5" fill="#666" fill-opacity="0.55"/>
<circle cx="263.40" cy="113.60" r="0.5" fill="#555"/>
<polyline points="253.75,99.90 253.75,98.90 263.65,98.90 263.65,99.90" fill="none" stroke="#3c3c3c" stroke-width="0.75"/>
<text x="258.70" y="98.40" font-size="9" text-anchor="middle" textLength="3.7" lengthAdjust="spacing">*</text>
<polyline points="278.15,95.90 278.15,94.90 288.05,94.90 288.05,95.90" fill="none" stroke="#3c3c3c" stroke-width="0.75"/>
<text x="283.10" y="94.40" font-size="9" text-anchor="middle" textLength="7.4" lengthAdjust="spacing">**</text>
<text x="256.70" y="149.80" font-size="6.3" stroke="#1a1a1a" stroke-width="0.1" text-anchor="middle" textLength="20.6" lengthAdjust="spacing">Control</text>
<text x="284.90" y="149.80" font-size="6.3" stroke="#1a1a1a" stroke-width="0.1" text-anchor="middle" textLength="28" lengthAdjust="spacingAndGlyphs">Treatment</text>
<line x1="32.90" y1="200.50" x2="32.90" y2="306.50" stroke="#3c3c3c" stroke-width="0.8"/>
<line x1="32.50" y1="306.50" x2="82.10" y2="306.50" stroke="#3c3c3c" stroke-width="0.8"/>
<line x1="30.30" y1="306.50" x2="32.90" y2="306.50" stroke="#3c3c3c" stroke-width="0.8"/>
<text x="27.90" y="309.35" font-size="7.7" stroke="#1a1a1a" stroke-width="0.1" text-anchor="end">0</text>
<line x1="30.30" y1="285.38" x2="32.90" y2="285.38" stroke="#3c3c3c" stroke-width="0.8"/>
<text x="27.90" y="288.23" font-size="7.7" stroke="#1a1a1a" stroke-width="0.1" text-anchor="end">1</text>
<line x1="30.30" y1="264.26" x2="32.90" y2="264.26" stroke="#3c3c3c" stroke-width="0.8"/>
<text x="27.90" y="267.11" font-size="7.7" stroke="#1a1a1a" stroke-width="0.1" text-anchor="end">2</text>
<line x1="30.30" y1="243.14" x2="32.90" y2="243.14" stroke="#3c3c3c" stroke-width="0.8"/>
<text x="27.90" y="245.99" font-size="7.7" stroke="#1a1a1a" stroke-width="0.1" text-anchor="end">3</text>
<line x1="30.30" y1="222.02" x2="32.90" y2="222.02" stroke="#3c3c3c" stroke-width="0.8"/>
<text x="27.90" y="224.87" font-size="7.7" stroke="#1a1a1a" stroke-width="0.1" text-anchor="end">4</text>
<line x1="30.30" y1="200.90" x2="32.90" y2="200.90" stroke="#3c3c3c" stroke-width="0.8"/>
<text x="27.90" y="203.75" font-size="7.7" stroke="#1a1a1a" stroke-width="0.1" text-anchor="end">5</text>
<line x1="45.10" y1="306.50" x2="45.10" y2="308.70" stroke="#3c3c3c" stroke-width="0.8"/>
<line x1="69.50" y1="306.50" x2="69.50" y2="308.70" stroke="#3c3c3c" stroke-width="0.8"/>
<text x="57.50" y="198.20" font-size="6.9" text-anchor="middle" textLength="21.3" lengthAdjust="spacingAndGlyphs" stroke="#1a1a1a" stroke-width="0.05">Overall</text>
<line x1="33.90" y1="282.50" x2="82.10" y2="282.50" stroke="#c4c4c4" stroke-width="0.7" stroke-dasharray="1.5,1.3"/>
<line x1="40.15" y1="274.30" x2="40.15" y2="279.30" stroke="#3c3c3c" stroke-width="0.85"/>
<line x1="40.15" y1="298.30" x2="40.15" y2="303.70" stroke="#3c3c3c" stroke-width="0.85"/>
<line x1="37.82" y1="274.30" x2="42.47" y2="274.30" stroke="#3c3c3c" stroke-width="0.85"/>
<line x1="37.82" y1="303.70" x2="42.47" y2="303.70" stroke="#3c3c3c" stroke-width="0.85"/>
<rect x="35.50" y="279.30" width="9.30" height="19.00" fill="#dcdcdc" stroke="#3c3c3c" stroke-width="0.85"/>
<line x1="35.50" y1="282.00" x2="44.80" y2="282.00" stroke="#3c3c3c" stroke-width="0.85"/>
<line x1="50.05" y1="269.30" x2="50.05" y2="281.00" stroke="#3c3c3c" stroke-width="0.85"/>
<line x1="50.05" y1="288.70" x2="50.05" y2="295.40" stroke="#3c3c3c" stroke-width="0.85"/>
<line x1="47.72" y1="269.30" x2="52.38" y2="269.30" stroke="#3c3c3c" stroke-width="0.85"/>
<line x1="47.72" y1="295.40" x2="52.38" y2="295.40" stroke="#3c3c3c" stroke-width="0.85"/>
<rect x="45.40" y="281.00" width="9.30" height="7.70" fill="#3b7cb6" stroke="#3c3c3c" stroke-width="0.85"/>
<line x1="45.40" y1="284.70" x2="54.70" y2="284.70" stroke="#3c3c3c" stroke-width="0.85"/>
<circle cx="39.56" cy="279.73" r="0.5" fill="#666" fill-opacity="0.55"/>
<circle cx="40.24" cy="290.43" r="0.5" fill="#666" fill-opacity="0.55"/>
<circle cx="40.80" cy="277.59" r="0.5" fill="#666" fill-opacity="0.55"/>
<circle cx="39.63" cy="300.40" r="0.5" fill="#666" fill-opacity="0.55"/>
<circle cx="40.82" cy="299.11" r="0.5" fill="#666" fill-opacity="0.55"/>
<circle cx="41.16" cy="280.13" r="0.5" fill="#666" fill-opacity="0.55"/>
<circle cx="40.85" cy="301.69" r="0.5" fill="#666" fill-opacity="0.55"/>
<circle cx="40.22" cy="275.00" r="0.5" fill="#666" fill-opacity="0.55"/>
<circle cx="41.06" cy="295.16" r="0.5" fill="#666" fill-opacity="0.55"/>
<circle cx="51.23" cy="276.13" r="0.5" fill="#666" fill-opacity="0.55"/>
<circle cx="49.24" cy="286.34" r="0.5" fill="#666" fill-opacity="0.55"/>
<circle cx="49.63" cy="282.02" r="0.5" fill="#666" fill-opacity="0.55"/>
<circle cx="50.23" cy="287.44" r="0.5" fill="#666" fill-opacity="0.55"/>
<circle cx="50.59" cy="285.82" r="0.5" fill="#666" fill-opacity="0.55"/>
<circle cx="50.94" cy="281.03" r="0.5" fill="#666" fill-opacity="0.55"/>
<circle cx="50.16" cy="275.18" r="0.5" fill="#666" fill-opacity="0.55"/>
<circle cx="50.76" cy="281.51" r="0.5" fill="#666" fill-opacity="0.55"/>
<circle cx="49.35" cy="281.57" r="0.5" fill="#666" fill-opacity="0.55"/>
<line x1="64.55" y1="274.30" x2="64.55" y2="281.30" stroke="#3c3c3c" stroke-width="0.85"/>
<line x1="64.55" y1="289.70" x2="64.55" y2="299.40" stroke="#3c3c3c" stroke-width="0.85"/>
<line x1="62.22" y1="274.30" x2="66.88" y2="274.30" stroke="#3c3c3c" stroke-width="0.85"/>
<line x1="62.22" y1="299.40" x2="66.88" y2="299.40" stroke="#3c3c3c" stroke-width="0.85"/>
<rect x="59.90" y="281.30" width="9.30" height="8.40" fill="#dcdcdc" stroke="#3c3c3c" stroke-width="0.85"/>
<line x1="59.90" y1="284.70" x2="69.20" y2="284.70" stroke="#3c3c3c" stroke-width="0.85"/>
<line x1="74.45" y1="258.60" x2="74.45" y2="272.30" stroke="#3c3c3c" stroke-width="0.85"/>
<line x1="74.45" y1="281.70" x2="74.45" y2="293.30" stroke="#3c3c3c" stroke-width="0.85"/>
<line x1="72.12" y1="258.60" x2="76.77" y2="258.60" stroke="#3c3c3c" stroke-width="0.85"/>
<line x1="72.12" y1="293.30" x2="76.77" y2="293.30" stroke="#3c3c3c" stroke-width="0.85"/>
<rect x="69.80" y="272.30" width="9.30" height="9.40" fill="#3b7cb6" stroke="#3c3c3c" stroke-width="0.85"/>
<line x1="69.80" y1="276.30" x2="79.10" y2="276.30" stroke="#3c3c3c" stroke-width="0.85"/>
<circle cx="65.27" cy="275.74" r="0.5" fill="#666" fill-opacity="0.55"/>
<circle cx="64.20" cy="294.49" r="0.5" fill="#666" fill-opacity="0.55"/>
<circle cx="65.35" cy="287.04" r="0.5" fill="#666" fill-opacity="0.55"/>
<circle cx="63.28" cy="286.70" r="0.5" fill="#666" fill-opacity="0.55"/>
<circle cx="65.28" cy="283.43" r="0.5" fill="#666" fill-opacity="0.55"/>
<circle cx="63.09" cy="286.07" r="0.5" fill="#666" fill-opacity="0.55"/>
<circle cx="65.07" cy="283.56" r="0.5" fill="#666" fill-opacity="0.55"/>
<circle cx="63.92" cy="286.98" r="0.5" fill="#666" fill-opacity="0.55"/>
<circle cx="64.45" cy="285.20" r="0.5" fill="#666" fill-opacity="0.55"/>
<circle cx="73.55" cy="280.70" r="0.5" fill="#666" fill-opacity="0.55"/>
<circle cx="73.00" cy="292.56" r="0.5" fill="#666" fill-opacity="0.55"/>
<circle cx="75.85" cy="280.01" r="0.5" fill="#666" fill-opacity="0.55"/>
<circle cx="73.58" cy="274.83" r="0.5" fill="#666" fill-opacity="0.55"/>
<circle cx="74.69" cy="284.14" r="0.5" fill="#666" fill-opacity="0.55"/>
<circle cx="75.81" cy="277.23" r="0.5" fill="#666" fill-opacity="0.55"/>
<circle cx="74.48" cy="280.01" r="0.5" fill="#666" fill-opacity="0.55"/>
<circle cx="73.64" cy="289.86" r="0.5" fill="#666" fill-opacity="0.55"/>
<circle cx="73.02" cy="287.34" r="0.5" fill="#666" fill-opacity="0.55"/>
<circle cx="50.00" cy="253.40" r="0.5" fill="#555"/>
<circle cx="74.40" cy="217.00" r="0.5" fill="#555"/>
<circle cx="74.40" cy="237.40" r="0.5" fill="#555"/>
<circle cx="49.30" cy="301.00" r="0.5" fill="#555"/>
<polyline points="40.15,246.90 40.15,245.90 50.05,245.90 50.05,246.90" fill="none" stroke="#3c3c3c" stroke-width="0.75"/>
<text x="45.10" y="243.50" font-size="8.4" text-anchor="middle" textLength="8.3" lengthAdjust="spacingAndGlyphs">ns</text>
<polyline points="64.55,210.30 64.55,209.30 74.45,209.30 74.45,210.30" fill="none" stroke="#3c3c3c" stroke-width="0.75"/>
<text x="69.50" y="208.80" font-size="9" text-anchor="middle" textLength="11.100000000000001" lengthAdjust="spacing">***</text>
<text x="43.10" y="315.40" font-size="6.3" stroke="#1a1a1a" stroke-width="0.1" text-anchor="middle" textLength="20.6" lengthAdjust="spacing">Control</text>
<text x="71.30" y="315.40" font-size="6.3" stroke="#1a1a1a" stroke-width="0.1" text-anchor="middle" textLength="28" lengthAdjust="spacingAndGlyphs">Treatment</text>
<line x1="104.00" y1="200.50" x2="104.00" y2="306.50" stroke="#3c3c3c" stroke-width="0.8"/>
<line x1="103.60" y1="306.50" x2="153.20" y2="306.50" stroke="#3c3c3c" stroke-width="0.8"/>
<line x1="101.40" y1="306.50" x2="104.00" y2="306.50" stroke="#3c3c3c" stroke-width="0.8"/>
<text x="99.00" y="309.35" font-size="7.7" stroke="#1a1a1a" stroke-width="0.1" text-anchor="end">0</text>
<line x1="101.40" y1="285.38" x2="104.00" y2="285.38" stroke="#3c3c3c" stroke-width="0.8"/>
<text x="99.00" y="288.23" font-size="7.7" stroke="#1a1a1a" stroke-width="0.1" text-anchor="end">1</text>
<line x1="101.40" y1="264.26" x2="104.00" y2="264.26" stroke="#3c3c3c" stroke-width="0.8"/>
<text x="99.00" y="267.11" font-size="7.7" stroke="#1a1a1a" stroke-width="0.1" text-anchor="end">2</text>
<line x1="101.40" y1="243.14" x2="104.00" y2="243.14" stroke="#3c3c3c" stroke-width="0.8"/>
<text x="99.00" y="245.99" font-size="7.7" stroke="#1a1a1a" stroke-width="0.1" text-anchor="end">3</text>
<line x1="101.40" y1="222.02" x2="104.00" y2="222.02" stroke="#3c3c3c" stroke-width="0.8"/>
<text x="99.00" y="224.87" font-size="7.7" stroke="#1a1a1a" stroke-width="0.1" text-anchor="end">4</text>
<line x1="101.40" y1="200.90" x2="104.00" y2="200.90" stroke="#3c3c3c" stroke-width="0.8"/>
<text x="99.00" y="203.75" font-size="7.7" stroke="#1a1a1a" stroke-width="0.1" text-anchor="end">5</text>
<line x1="116.20" y1="306.50" x2="116.20" y2="308.70" stroke="#3c3c3c" stroke-width="0.8"/>
<line x1="140.60" y1="306.50" x2="140.60" y2="308.70" stroke="#3c3c3c" stroke-width="0.8"/>
<text x="128.60" y="198.20" font-size="6.9" text-anchor="middle" textLength="27" lengthAdjust="spacingAndGlyphs" stroke="#1a1a1a" stroke-width="0.05">LNCaP AR</text>
<line x1="105.00" y1="282.50" x2="153.20" y2="282.50" stroke="#c4c4c4" stroke-width="0.7" stroke-dasharray="1.5,1.3"/>
<line x1="111.25" y1="280.40" x2="111.25" y2="281.40" stroke="#3c3c3c" stroke-width="0.85"/>
<line x1="111.25" y1="298.00" x2="111.25" y2="301.40" stroke="#3c3c3c" stroke-width="0.85"/>
<line x1="108.92" y1="280.40" x2="113.58" y2="280.40" stroke="#3c3c3c" stroke-width="0.85"/>
<line x1="108.92" y1="301.40" x2="113.58" y2="301.40" stroke="#3c3c3c" stroke-width="0.85"/>
<rect x="106.60" y="281.40" width="9.30" height="16.60" fill="#dcdcdc" stroke="#3c3c3c" stroke-width="0.85"/>
<line x1="106.60" y1="287.40" x2="115.90" y2="287.40" stroke="#3c3c3c" stroke-width="0.85"/>
<line x1="121.15" y1="253.40" x2="121.15" y2="269.00" stroke="#3c3c3c" stroke-width="0.85"/>
<line x1="121.15" y1="291.40" x2="121.15" y2="301.40" stroke="#3c3c3c" stroke-width="0.85"/>
<line x1="118.83" y1="253.40" x2="123.48" y2="253.40" stroke="#3c3c3c" stroke-width="0.85"/>
<line x1="118.83" y1="301.40" x2="123.48" y2="301.40" stroke="#3c3c3c" stroke-width="0.85"/>
<rect x="116.50" y="269.00" width="9.30" height="22.40" fill="#3b7cb6" stroke="#3c3c3c" stroke-width="0.85"/>
<line x1="116.50" y1="286.40" x2="125.80" y2="286.40" stroke="#3c3c3c" stroke-width="0.85"/>
<circle cx="111.10" cy="289.56" r="0.5" fill="#666" fill-opacity="0.55"/>
<circle cx="110.78" cy="283.74" r="0.5" fill="#666" fill-opacity="0.55"/>
<circle cx="109.76" cy="295.35" r="0.5" fill="#666" fill-opacity="0.55"/>
<circle cx="110.11" cy="281.24" r="0.5" fill="#666" fill-opacity="0.55"/>
<circle cx="112.45" cy="300.42" r="0.5" fill="#666" fill-opacity="0.55"/>
<circle cx="110.93" cy="287.58" r="0.5" fill="#666" fill-opacity="0.55"/>
<circle cx="110.83" cy="300.00" r="0.5" fill="#666" fill-opacity="0.55"/>
<circle cx="109.89" cy="285.97" r="0.5" fill="#666" fill-opacity="0.55"/>
<circle cx="110.61" cy="295.26" r="0.5" fill="#666" fill-opacity="0.55"/>
<circle cx="120.45" cy="293.89" r="0.5" fill="#666" fill-opacity="0.55"/>
<circle cx="120.77" cy="273.25" r="0.5" fill="#666" fill-opacity="0.55"/>
<circle cx="122.09" cy="300.24" r="0.5" fill="#666" fill-opacity="0.55"/>
<circle cx="122.47" cy="289.46" r="0.5" fill="#666" fill-opacity="0.55"/>
<circle cx="119.80" cy="285.12" r="0.5" fill="#666" fill-opacity="0.55"/>
<circle cx="121.91" cy="260.43" r="0.5" fill="#666" fill-opacity="0.55"/>
<circle cx="119.80" cy="275.41" r="0.5" fill="#666" fill-opacity="0.55"/>
<circle cx="121.07" cy="292.67" r="0.5" fill="#666" fill-opacity="0.55"/>
<circle cx="121.87" cy="275.67" r="0.5" fill="#666" fill-opacity="0.55"/>
<line x1="135.65" y1="291.00" x2="135.65" y2="292.00" stroke="#3c3c3c" stroke-width="0.85"/>
<line x1="135.65" y1="295.40" x2="135.65" y2="299.40" stroke="#3c3c3c" stroke-width="0.85"/>
<line x1="133.32" y1="291.00" x2="137.97" y2="291.00" stroke="#3c3c3c" stroke-width="0.85"/>
<line x1="133.32" y1="299.40" x2="137.97" y2="299.40" stroke="#3c3c3c" stroke-width="0.85"/>
<rect x="131.00" y="292.00" width="9.30" height="3.40" fill="#dcdcdc" stroke="#3c3c3c" stroke-width="0.85"/>
<line x1="131.00" y1="293.00" x2="140.30" y2="293.00" stroke="#3c3c3c" stroke-width="0.85"/>
<line x1="145.55" y1="261.40" x2="145.55" y2="265.00" stroke="#3c3c3c" stroke-width="0.85"/>
<line x1="145.55" y1="279.60" x2="145.55" y2="293.60" stroke="#3c3c3c" stroke-width="0.85"/>
<line x1="143.23" y1="261.40" x2="147.88" y2="261.40" stroke="#3c3c3c" stroke-width="0.85"/>
<line x1="143.23" y1="293.60" x2="147.88" y2="293.60" stroke="#3c3c3c" stroke-width="0.85"/>
<rect x="140.90" y="265.00" width="9.30" height="14.60" fill="#3b7cb6" stroke="#3c3c3c" stroke-width="0.85"/>
<line x1="140.90" y1="274.40" x2="150.20" y2="274.40" stroke="#3c3c3c" stroke-width="0.85"/>
<circle cx="136.12" cy="296.44" r="0.5" fill="#666" fill-opacity="0.55"/>
<circle cx="135.33" cy="293.89" r="0.5" fill="#666" fill-opacity="0.55"/>
<circle cx="134.77" cy="292.55" r="0.5" fill="#666" fill-opacity="0.55"/>
<circle cx="134.81" cy="297.39" r="0.5" fill="#666" fill-opacity="0.55"/>
<circle cx="135.50" cy="299.39" r="0.5" fill="#666" fill-opacity="0.55"/>
<circle cx="134.42" cy="292.65" r="0.5" fill="#666" fill-opacity="0.55"/>
<circle cx="134.87" cy="292.31" r="0.5" fill="#666" fill-opacity="0.55"/>
<circle cx="136.81" cy="293.94" r="0.5" fill="#666" fill-opacity="0.55"/>
<circle cx="135.39" cy="291.41" r="0.5" fill="#666" fill-opacity="0.55"/>
<circle cx="145.06" cy="270.50" r="0.5" fill="#666" fill-opacity="0.55"/>
<circle cx="146.95" cy="269.05" r="0.5" fill="#666" fill-opacity="0.55"/>
<circle cx="145.94" cy="272.35" r="0.5" fill="#666" fill-opacity="0.55"/>
<circle cx="144.86" cy="282.62" r="0.5" fill="#666" fill-opacity="0.55"/>
<circle cx="145.39" cy="270.84" r="0.5" fill="#666" fill-opacity="0.55"/>
<circle cx="146.67" cy="291.48" r="0.5" fill="#666" fill-opacity="0.55"/>
<circle cx="146.18" cy="265.47" r="0.5" fill="#666" fill-opacity="0.55"/>
<circle cx="145.81" cy="286.23" r="0.5" fill="#666" fill-opacity="0.55"/>
<circle cx="146.83" cy="270.72" r="0.5" fill="#666" fill-opacity="0.55"/>
<circle cx="145.80" cy="217.00" r="0.5" fill="#555"/>
<circle cx="145.80" cy="237.40" r="0.5" fill="#555"/>
<polyline points="111.25,246.90 111.25,245.90 121.15,245.90 121.15,246.90" fill="none" stroke="#3c3c3c" stroke-width="0.75"/>
<text x="116.20" y="243.50" font-size="8.4" text-anchor="middle" textLength="8.3" lengthAdjust="spacingAndGlyphs">ns</text>
<polyline points="135.65,210.30 135.65,209.30 145.55,209.30 145.55,210.30" fill="none" stroke="#3c3c3c" stroke-width="0.75"/>
<text x="140.60" y="208.80" font-size="9" text-anchor="middle" textLength="7.4" lengthAdjust="spacing">**</text>
<text x="114.20" y="315.40" font-size="6.3" stroke="#1a1a1a" stroke-width="0.1" text-anchor="middle" textLength="20.6" lengthAdjust="spacing">Control</text>
<text x="142.40" y="315.40" font-size="6.3" stroke="#1a1a1a" stroke-width="0.1" text-anchor="middle" textLength="28" lengthAdjust="spacingAndGlyphs">Treatment</text>
<line x1="175.40" y1="200.50" x2="175.40" y2="306.50" stroke="#3c3c3c" stroke-width="0.8"/>
<line x1="175.00" y1="306.50" x2="224.60" y2="306.50" stroke="#3c3c3c" stroke-width="0.8"/>
<line x1="172.80" y1="306.50" x2="175.40" y2="306.50" stroke="#3c3c3c" stroke-width="0.8"/>
<text x="170.40" y="309.35" font-size="7.7" stroke="#1a1a1a" stroke-width="0.1" text-anchor="end">0</text>
<line x1="172.80" y1="285.38" x2="175.40" y2="285.38" stroke="#3c3c3c" stroke-width="0.8"/>
<text x="170.40" y="288.23" font-size="7.7" stroke="#1a1a1a" stroke-width="0.1" text-anchor="end">1</text>
<line x1="172.80" y1="264.26" x2="175.40" y2="264.26" stroke="#3c3c3c" stroke-width="0.8"/>
<text x="170.40" y="267.11" font-size="7.7" stroke="#1a1a1a" stroke-width="0.1" text-anchor="end">2</text>
<line x1="172.80" y1="243.14" x2="175.40" y2="243.14" stroke="#3c3c3c" stroke-width="0.8"/>
<text x="170.40" y="245.99" font-size="7.7" stroke="#1a1a1a" stroke-width="0.1" text-anchor="end">3</text>
<line x1="172.80" y1="222.02" x2="175.40" y2="222.02" stroke="#3c3c3c" stroke-width="0.8"/>
<text x="170.40" y="224.87" font-size="7.7" stroke="#1a1a1a" stroke-width="0.1" text-anchor="end">4</text>
<line x1="172.80" y1="200.90" x2="175.40" y2="200.90" stroke="#3c3c3c" stroke-width="0.8"/>
<text x="170.40" y="203.75" font-size="7.7" stroke="#1a1a1a" stroke-width="0.1" text-anchor="end">5</text>
<line x1="187.60" y1="306.50" x2="187.60" y2="308.70" stroke="#3c3c3c" stroke-width="0.8"/>
<line x1="212.00" y1="306.50" x2="212.00" y2="308.70" stroke="#3c3c3c" stroke-width="0.8"/>
<text x="200.00" y="198.20" font-size="6.9" text-anchor="middle" textLength="22" lengthAdjust="spacingAndGlyphs" stroke="#1a1a1a" stroke-width="0.05">HCT116</text>
<line x1="176.40" y1="282.50" x2="224.60" y2="282.50" stroke="#c4c4c4" stroke-width="0.7" stroke-dasharray="1.5,1.3"/>
<line x1="182.65" y1="274.40" x2="182.65" y2="276.40" stroke="#3c3c3c" stroke-width="0.85"/>
<line x1="182.65" y1="299.40" x2="182.65" y2="303.40" stroke="#3c3c3c" stroke-width="0.85"/>
<line x1="180.32" y1="274.40" x2="184.97" y2="274.40" stroke="#3c3c3c" stroke-width="0.85"/>
<line x1="180.32" y1="303.40" x2="184.97" y2="303.40" stroke="#3c3c3c" stroke-width="0.85"/>
<rect x="178.00" y="276.40" width="9.30" height="23.00" fill="#dcdcdc" stroke="#3c3c3c" stroke-width="0.85"/>
<line x1="178.00" y1="280.40" x2="187.30" y2="280.40" stroke="#3c3c3c" stroke-width="0.85"/>
<line x1="192.55" y1="280.40" x2="192.55" y2="281.00" stroke="#3c3c3c" stroke-width="0.85"/>
<line x1="192.55" y1="287.60" x2="192.55" y2="295.40" stroke="#3c3c3c" stroke-width="0.85"/>
<line x1="190.23" y1="280.40" x2="194.88" y2="280.40" stroke="#3c3c3c" stroke-width="0.85"/>
<line x1="190.23" y1="295.40" x2="194.88" y2="295.40" stroke="#3c3c3c" stroke-width="0.85"/>
<rect x="187.90" y="281.00" width="9.30" height="6.60" fill="#3b7cb6" stroke="#3c3c3c" stroke-width="0.85"/>
<line x1="187.90" y1="283.40" x2="197.20" y2="283.40" stroke="#3c3c3c" stroke-width="0.85"/>
<circle cx="184.07" cy="276.11" r="0.5" fill="#666" fill-opacity="0.55"/>
<circle cx="181.61" cy="278.91" r="0.5" fill="#666" fill-opacity="0.55"/>
<circle cx="183.97" cy="292.09" r="0.5" fill="#666" fill-opacity="0.55"/>
<circle cx="183.44" cy="275.69" r="0.5" fill="#666" fill-opacity="0.55"/>
<circle cx="181.27" cy="289.08" r="0.5" fill="#666" fill-opacity="0.55"/>
<circle cx="183.91" cy="274.87" r="0.5" fill="#666" fill-opacity="0.55"/>
<circle cx="181.53" cy="283.39" r="0.5" fill="#666" fill-opacity="0.55"/>
<circle cx="183.25" cy="291.03" r="0.5" fill="#666" fill-opacity="0.55"/>
<circle cx="182.72" cy="278.02" r="0.5" fill="#666" fill-opacity="0.55"/>
<circle cx="191.72" cy="283.56" r="0.5" fill="#666" fill-opacity="0.55"/>
<circle cx="191.95" cy="281.07" r="0.5" fill="#666" fill-opacity="0.55"/>
<circle cx="192.98" cy="287.33" r="0.5" fill="#666" fill-opacity="0.55"/>
<circle cx="191.75" cy="291.31" r="0.5" fill="#666" fill-opacity="0.55"/>
<circle cx="193.16" cy="287.34" r="0.5" fill="#666" fill-opacity="0.55"/>
<circle cx="192.54" cy="281.14" r="0.5" fill="#666" fill-opacity="0.55"/>
<circle cx="191.82" cy="283.77" r="0.5" fill="#666" fill-opacity="0.55"/>
<circle cx="191.73" cy="287.11" r="0.5" fill="#666" fill-opacity="0.55"/>
<circle cx="192.31" cy="283.23" r="0.5" fill="#666" fill-opacity="0.55"/>
<line x1="207.05" y1="274.40" x2="207.05" y2="279.40" stroke="#3c3c3c" stroke-width="0.85"/>
<line x1="207.05" y1="284.40" x2="207.05" y2="289.40" stroke="#3c3c3c" stroke-width="0.85"/>
<line x1="204.73" y1="274.40" x2="209.38" y2="274.40" stroke="#3c3c3c" stroke-width="0.85"/>
<line x1="204.73" y1="289.40" x2="209.38" y2="289.40" stroke="#3c3c3c" stroke-width="0.85"/>
<rect x="202.40" y="279.40" width="9.30" height="5.00" fill="#dcdcdc" stroke="#3c3c3c" stroke-width="0.85"/>
<line x1="202.40" y1="281.00" x2="211.70" y2="281.00" stroke="#3c3c3c" stroke-width="0.85"/>
<line x1="216.95" y1="258.00" x2="216.95" y2="263.40" stroke="#3c3c3c" stroke-width="0.85"/>
<line x1="216.95" y1="278.40" x2="216.95" y2="282.40" stroke="#3c3c3c" stroke-width="0.85"/>
<line x1="214.62" y1="258.00" x2="219.27" y2="258.00" stroke="#3c3c3c" stroke-width="0.85"/>
<line x1="214.62" y1="282.40" x2="219.27" y2="282.40" stroke="#3c3c3c" stroke-width="0.85"/>
<rect x="212.30" y="263.40" width="9.30" height="15.00" fill="#3b7cb6" stroke="#3c3c3c" stroke-width="0.85"/>
<line x1="212.30" y1="275.40" x2="221.60" y2="275.40" stroke="#3c3c3c" stroke-width="0.85"/>
<circle cx="207.94" cy="280.39" r="0.5" fill="#666" fill-opacity="0.55"/>
<circle cx="206.17" cy="276.92" r="0.5" fill="#666" fill-opacity="0.55"/>
<circle cx="208.01" cy="285.96" r="0.5" fill="#666" fill-opacity="0.55"/>
<circle cx="207.83" cy="280.51" r="0.5" fill="#666" fill-opacity="0.55"/>
<circle cx="207.04" cy="284.16" r="0.5" fill="#666" fill-opacity="0.55"/>
<circle cx="206.80" cy="280.52" r="0.5" fill="#666" fill-opacity="0.55"/>
<circle cx="205.99" cy="284.14" r="0.5" fill="#666" fill-opacity="0.55"/>
<circle cx="208.47" cy="280.46" r="0.5" fill="#666" fill-opacity="0.55"/>
<circle cx="205.73" cy="279.66" r="0.5" fill="#666" fill-opacity="0.55"/>
<circle cx="218.10" cy="276.87" r="0.5" fill="#666" fill-opacity="0.55"/>
<circle cx="218.24" cy="263.39" r="0.5" fill="#666" fill-opacity="0.55"/>
<circle cx="218.26" cy="266.18" r="0.5" fill="#666" fill-opacity="0.55"/>
<circle cx="217.44" cy="258.17" r="0.5" fill="#666" fill-opacity="0.55"/>
<circle cx="216.45" cy="269.01" r="0.5" fill="#666" fill-opacity="0.55"/>
<circle cx="216.29" cy="263.44" r="0.5" fill="#666" fill-opacity="0.55"/>
<circle cx="215.82" cy="277.73" r="0.5" fill="#666" fill-opacity="0.55"/>
<circle cx="216.52" cy="279.23" r="0.5" fill="#666" fill-opacity="0.55"/>
<circle cx="216.75" cy="262.44" r="0.5" fill="#666" fill-opacity="0.55"/>
<circle cx="192.40" cy="269.40" r="0.5" fill="#555"/>
<polyline points="182.65,249.70 182.65,248.70 192.55,248.70 192.55,249.70" fill="none" stroke="#3c3c3c" stroke-width="0.75"/>
<text x="187.60" y="246.30" font-size="8.4" text-anchor="middle" textLength="8.3" lengthAdjust="spacingAndGlyphs">ns</text>
<polyline points="207.05,249.70 207.05,248.70 216.95,248.70 216.95,249.70" fill="none" stroke="#3c3c3c" stroke-width="0.75"/>
<text x="212.00" y="248.20" font-size="9" text-anchor="middle" textLength="3.7" lengthAdjust="spacing">*</text>
<text x="185.60" y="315.40" font-size="6.3" stroke="#1a1a1a" stroke-width="0.1" text-anchor="middle" textLength="20.6" lengthAdjust="spacing">Control</text>
<text x="213.80" y="315.40" font-size="6.3" stroke="#1a1a1a" stroke-width="0.1" text-anchor="middle" textLength="28" lengthAdjust="spacingAndGlyphs">Treatment</text>
<line x1="246.50" y1="200.50" x2="246.50" y2="306.50" stroke="#3c3c3c" stroke-width="0.8"/>
<line x1="246.10" y1="306.50" x2="295.70" y2="306.50" stroke="#3c3c3c" stroke-width="0.8"/>
<line x1="243.90" y1="306.50" x2="246.50" y2="306.50" stroke="#3c3c3c" stroke-width="0.8"/>
<text x="241.50" y="309.35" font-size="7.7" stroke="#1a1a1a" stroke-width="0.1" text-anchor="end">0</text>
<line x1="243.90" y1="285.38" x2="246.50" y2="285.38" stroke="#3c3c3c" stroke-width="0.8"/>
<text x="241.50" y="288.23" font-size="7.7" stroke="#1a1a1a" stroke-width="0.1" text-anchor="end">1</text>
<line x1="243.90" y1="264.26" x2="246.50" y2="264.26" stroke="#3c3c3c" stroke-width="0.8"/>
<text x="241.50" y="267.11" font-size="7.7" stroke="#1a1a1a" stroke-width="0.1" text-anchor="end">2</text>
<line x1="243.90" y1="243.14" x2="246.50" y2="243.14" stroke="#3c3c3c" stroke-width="0.8"/>
<text x="241.50" y="245.99" font-size="7.7" stroke="#1a1a1a" stroke-width="0.1" text-anchor="end">3</text>
<line x1="243.90" y1="222.02" x2="246.50" y2="222.02" stroke="#3c3c3c" stroke-width="0.8"/>
<text x="241.50" y="224.87" font-size="7.7" stroke="#1a1a1a" stroke-width="0.1" text-anchor="end">4</text>
<line x1="243.90" y1="200.90" x2="246.50" y2="200.90" stroke="#3c3c3c" stroke-width="0.8"/>
<text x="241.50" y="203.75" font-size="7.7" stroke="#1a1a1a" stroke-width="0.1" text-anchor="end">5</text>
<line x1="258.70" y1="306.50" x2="258.70" y2="308.70" stroke="#3c3c3c" stroke-width="0.8"/>
<line x1="283.10" y1="306.50" x2="283.10" y2="308.70" stroke="#3c3c3c" stroke-width="0.8"/>
<text x="270.10" y="198.20" font-size="6.9" text-anchor="middle" textLength="16.8" lengthAdjust="spacingAndGlyphs" stroke="#1a1a1a" stroke-width="0.05">DLD-1</text>
<line x1="247.50" y1="282.50" x2="295.70" y2="282.50" stroke="#c4c4c4" stroke-width="0.7" stroke-dasharray="1.5,1.3"/>
<line x1="253.75" y1="279.40" x2="253.75" y2="282.60" stroke="#3c3c3c" stroke-width="0.85"/>
<line x1="253.75" y1="286.40" x2="253.75" y2="288.60" stroke="#3c3c3c" stroke-width="0.85"/>
<line x1="251.43" y1="279.40" x2="256.07" y2="279.40" stroke="#3c3c3c" stroke-width="0.85"/>
<line x1="251.43" y1="288.60" x2="256.07" y2="288.60" stroke="#3c3c3c" stroke-width="0.85"/>
<rect x="249.10" y="282.60" width="9.30" height="3.80" fill="#dcdcdc" stroke="#3c3c3c" stroke-width="0.85"/>
<line x1="249.10" y1="284.50" x2="258.40" y2="284.50" stroke="#3c3c3c" stroke-width="0.85"/>
<line x1="263.65" y1="282.00" x2="263.65" y2="283.00" stroke="#3c3c3c" stroke-width="0.85"/>
<line x1="263.65" y1="286.40" x2="263.65" y2="290.00" stroke="#3c3c3c" stroke-width="0.85"/>
<line x1="261.32" y1="282.00" x2="265.97" y2="282.00" stroke="#3c3c3c" stroke-width="0.85"/>
<line x1="261.32" y1="290.00" x2="265.97" y2="290.00" stroke="#3c3c3c" stroke-width="0.85"/>
<rect x="259.00" y="283.00" width="9.30" height="3.40" fill="#3b7cb6" stroke="#3c3c3c" stroke-width="0.85"/>
<line x1="259.00" y1="284.00" x2="268.30" y2="284.00" stroke="#3c3c3c" stroke-width="0.85"/>
<circle cx="253.37" cy="284.40" r="0.5" fill="#666" fill-opacity="0.55"/>
<circle cx="253.34" cy="286.82" r="0.5" fill="#666" fill-opacity="0.55"/>
<circle cx="253.48" cy="286.47" r="0.5" fill="#666" fill-opacity="0.55"/>
<circle cx="252.37" cy="281.85" r="0.5" fill="#666" fill-opacity="0.55"/>
<circle cx="255.01" cy="282.84" r="0.5" fill="#666" fill-opacity="0.55"/>
<circle cx="254.95" cy="285.44" r="0.5" fill="#666" fill-opacity="0.55"/>
<circle cx="255.12" cy="283.63" r="0.5" fill="#666" fill-opacity="0.55"/>
<circle cx="254.40" cy="283.60" r="0.5" fill="#666" fill-opacity="0.55"/>
<circle cx="252.26" cy="283.65" r="0.5" fill="#666" fill-opacity="0.55"/>
<circle cx="264.05" cy="282.92" r="0.5" fill="#666" fill-opacity="0.55"/>
<circle cx="262.85" cy="286.49" r="0.5" fill="#666" fill-opacity="0.55"/>
<circle cx="265.01" cy="286.25" r="0.5" fill="#666" fill-opacity="0.55"/>
<circle cx="263.44" cy="283.85" r="0.5" fill="#666" fill-opacity="0.55"/>
<circle cx="262.70" cy="286.16" r="0.5" fill="#666" fill-opacity="0.55"/>
<circle cx="264.62" cy="282.74" r="0.5" fill="#666" fill-opacity="0.55"/>
<circle cx="263.13" cy="282.61" r="0.5" fill="#666" fill-opacity="0.55"/>
<circle cx="264.50" cy="284.23" r="0.5" fill="#666" fill-opacity="0.55"/>
<circle cx="264.41" cy="283.67" r="0.5" fill="#666" fill-opacity="0.55"/>
<line x1="278.15" y1="280.00" x2="278.15" y2="283.60" stroke="#3c3c3c" stroke-width="0.85"/>
<line x1="278.15" y1="288.40" x2="278.15" y2="288.60" stroke="#3c3c3c" stroke-width="0.85"/>
<line x1="275.82" y1="280.00" x2="280.47" y2="280.00" stroke="#3c3c3c" stroke-width="0.85"/>
<line x1="275.82" y1="288.60" x2="280.47" y2="288.60" stroke="#3c3c3c" stroke-width="0.85"/>
<rect x="273.50" y="283.60" width="9.30" height="4.80" fill="#dcdcdc" stroke="#3c3c3c" stroke-width="0.85"/>
<line x1="273.50" y1="286.00" x2="282.80" y2="286.00" stroke="#3c3c3c" stroke-width="0.85"/>
<line x1="288.05" y1="276.00" x2="288.05" y2="278.00" stroke="#3c3c3c" stroke-width="0.85"/>
<line x1="288.05" y1="285.40" x2="288.05" y2="289.00" stroke="#3c3c3c" stroke-width="0.85"/>
<line x1="285.72" y1="276.00" x2="290.37" y2="276.00" stroke="#3c3c3c" stroke-width="0.85"/>
<line x1="285.72" y1="289.00" x2="290.37" y2="289.00" stroke="#3c3c3c" stroke-width="0.85"/>
<rect x="283.40" y="278.00" width="9.30" height="7.40" fill="#3b7cb6" stroke="#3c3c3c" stroke-width="0.85"/>
<line x1="283.40" y1="281.40" x2="292.70" y2="281.40" stroke="#3c3c3c" stroke-width="0.85"/>
<circle cx="276.75" cy="283.91" r="0.5" fill="#666" fill-opacity="0.55"/>
<circle cx="279.59" cy="285.16" r="0.5" fill="#666" fill-opacity="0.55"/>
<circle cx="277.44" cy="288.60" r="0.5" fill="#666" fill-opacity="0.55"/>
<circle cx="278.15" cy="284.06" r="0.5" fill="#666" fill-opacity="0.55"/>
<circle cx="277.35" cy="281.61" r="0.5" fill="#666" fill-opacity="0.55"/>
<circle cx="278.67" cy="286.58" r="0.5" fill="#666" fill-opacity="0.55"/>
<circle cx="278.64" cy="283.05" r="0.5" fill="#666" fill-opacity="0.55"/>
<circle cx="277.53" cy="287.64" r="0.5" fill="#666" fill-opacity="0.55"/>
<circle cx="278.86" cy="285.39" r="0.5" fill="#666" fill-opacity="0.55"/>
<circle cx="287.29" cy="279.83" r="0.5" fill="#666" fill-opacity="0.55"/>
<circle cx="288.28" cy="284.54" r="0.5" fill="#666" fill-opacity="0.55"/>
<circle cx="289.53" cy="280.93" r="0.5" fill="#666" fill-opacity="0.55"/>
<circle cx="288.98" cy="279.71" r="0.5" fill="#666" fill-opacity="0.55"/>
<circle cx="286.86" cy="285.33" r="0.5" fill="#666" fill-opacity="0.55"/>
<circle cx="289.07" cy="284.06" r="0.5" fill="#666" fill-opacity="0.55"/>
<circle cx="287.43" cy="285.55" r="0.5" fill="#666" fill-opacity="0.55"/>
<circle cx="289.47" cy="279.40" r="0.5" fill="#666" fill-opacity="0.55"/>
<circle cx="287.67" cy="284.88" r="0.5" fill="#666" fill-opacity="0.55"/>
<polyline points="253.75,265.30 253.75,264.30 263.65,264.30 263.65,265.30" fill="none" stroke="#3c3c3c" stroke-width="0.75"/>
<text x="258.70" y="261.90" font-size="8.4" text-anchor="middle" textLength="8.3" lengthAdjust="spacingAndGlyphs">ns</text>
<polyline points="278.15,265.30 278.15,264.30 288.05,264.30 288.05,265.30" fill="none" stroke="#3c3c3c" stroke-width="0.75"/>
<text x="283.10" y="261.90" font-size="8.4" text-anchor="middle" textLength="8.3" lengthAdjust="spacingAndGlyphs">ns</text>
<text x="256.70" y="315.40" font-size="6.3" stroke="#1a1a1a" stroke-width="0.1" text-anchor="middle" textLength="20.6" lengthAdjust="spacing">Control</text>
<text x="284.90" y="315.40" font-size="6.3" stroke="#1a1a1a" stroke-width="0.1" text-anchor="middle" textLength="28" lengthAdjust="spacingAndGlyphs">Treatment</text>
<polygon points="329.80,124.40 329.80,53.00 332.80,53.00 332.80,46.30 384.00,46.30 383.00,49.00 380.60,49.00 380.60,50.90 378.00,50.90 378.00,51.50 373.60,51.50 373.60,61.00 373.00,61.00 373.00,63.00 370.40,63.00 370.40,64.90 367.20,64.90 367.20,68.00 364.00,68.00 364.00,69.30 359.60,69.30 359.60,73.70 355.00,73.70 355.00,75.30 350.00,75.30 350.00,76.00 347.50,76.00 347.50,76.50 339.60,76.50 339.60,95.60 336.00,95.60 336.00,108.40 332.60,108.40 332.60,124.40" fill="#c7d2ea"/>
<line x1="329.80" y1="141.30" x2="425.00" y2="46.00" stroke="#1a1a1a" stroke-width="1.1" stroke-dasharray="1.8,1.25"/>
<rect x="329.80" y="46.00" width="95.20" height="95.30" fill="none" stroke="#3a3a3a" stroke-width="0.8"/>
<polyline points="329.80,141.30 329.80,89.00 332.40,89.00 332.40,78.20 336.20,78.20 336.20,67.40 339.30,67.40 339.30,60.40 348.80,60.40 348.80,59.60 352.60,59.60 352.60,58.80 356.40,58.80 356.40,57.60 360.20,57.60 360.20,56.40 364.00,56.40 364.00,55.20 367.20,55.20 367.20,54.00 370.40,54.00 370.40,52.80 373.00,52.80 373.00,48.60 378.00,48.60 378.00,47.60 380.60,47.60 380.60,46.60 383.00,46.60 383.00,46.10 425.00,46.10" fill="none" stroke="#2a80bd" stroke-width="1.3" stroke-linejoin="miter"/>
<line x1="327.40" y1="141.30" x2="329.80" y2="141.30" stroke="#3c3c3c" stroke-width="0.8"/>
<text x="324.90" y="144.00" font-size="7.3" stroke="#1a1a1a" stroke-width="0.1" text-anchor="end" textLength="10.0" lengthAdjust="spacingAndGlyphs">0.0</text>
<line x1="329.80" y1="141.30" x2="329.80" y2="143.70" stroke="#3c3c3c" stroke-width="0.8"/>
<text x="329.80" y="150.90" font-size="6.6" stroke="#1a1a1a" stroke-width="0.1" text-anchor="middle" textLength="9.6" lengthAdjust="spacing">0.0</text>
<line x1="327.40" y1="122.24" x2="329.80" y2="122.24" stroke="#3c3c3c" stroke-width="0.8"/>
<text x="324.90" y="124.94" font-size="7.3" stroke="#1a1a1a" stroke-width="0.1" text-anchor="end" textLength="10.0" lengthAdjust="spacingAndGlyphs">0.2</text>
<line x1="348.84" y1="141.30" x2="348.84" y2="143.70" stroke="#3c3c3c" stroke-width="0.8"/>
<text x="348.84" y="150.90" font-size="6.6" stroke="#1a1a1a" stroke-width="0.1" text-anchor="middle" textLength="9.6" lengthAdjust="spacing">0.2</text>
<line x1="327.40" y1="103.18" x2="329.80" y2="103.18" stroke="#3c3c3c" stroke-width="0.8"/>
<text x="324.90" y="105.88" font-size="7.3" stroke="#1a1a1a" stroke-width="0.1" text-anchor="end" textLength="10.0" lengthAdjust="spacingAndGlyphs">0.4</text>
<line x1="367.88" y1="141.30" x2="367.88" y2="143.70" stroke="#3c3c3c" stroke-width="0.8"/>
<text x="367.88" y="150.90" font-size="6.6" stroke="#1a1a1a" stroke-width="0.1" text-anchor="middle" textLength="9.6" lengthAdjust="spacing">0.4</text>
<line x1="327.40" y1="84.12" x2="329.80" y2="84.12" stroke="#3c3c3c" stroke-width="0.8"/>
<text x="324.90" y="86.82" font-size="7.3" stroke="#1a1a1a" stroke-width="0.1" text-anchor="end" textLength="10.0" lengthAdjust="spacingAndGlyphs">0.6</text>
<line x1="386.92" y1="141.30" x2="386.92" y2="143.70" stroke="#3c3c3c" stroke-width="0.8"/>
<text x="386.92" y="150.90" font-size="6.6" stroke="#1a1a1a" stroke-width="0.1" text-anchor="middle" textLength="9.6" lengthAdjust="spacing">0.6</text>
<line x1="327.40" y1="65.06" x2="329.80" y2="65.06" stroke="#3c3c3c" stroke-width="0.8"/>
<text x="324.90" y="67.76" font-size="7.3" stroke="#1a1a1a" stroke-width="0.1" text-anchor="end" textLength="10.0" lengthAdjust="spacingAndGlyphs">0.8</text>
<line x1="405.96" y1="141.30" x2="405.96" y2="143.70" stroke="#3c3c3c" stroke-width="0.8"/>
<text x="405.96" y="150.90" font-size="6.6" stroke="#1a1a1a" stroke-width="0.1" text-anchor="middle" textLength="9.6" lengthAdjust="spacing">0.8</text>
<line x1="327.40" y1="46.00" x2="329.80" y2="46.00" stroke="#3c3c3c" stroke-width="0.8"/>
<text x="324.90" y="48.70" font-size="7.3" stroke="#1a1a1a" stroke-width="0.1" text-anchor="end" textLength="10.0" lengthAdjust="spacingAndGlyphs">1.0</text>
<line x1="425.00" y1="141.30" x2="425.00" y2="143.70" stroke="#3c3c3c" stroke-width="0.8"/>
<text x="425.00" y="150.90" font-size="6.6" stroke="#1a1a1a" stroke-width="0.1" text-anchor="middle" textLength="9.6" lengthAdjust="spacing">1.0</text>
<text x="377.00" y="43.60" font-size="7.7" stroke="#1a1a1a" stroke-width="0.1" text-anchor="middle" textLength="16.2" lengthAdjust="spacingAndGlyphs">Train</text>
<text x="377.20" y="159.20" font-size="6.6" stroke="#1a1a1a" stroke-width="0.1" text-anchor="middle" textLength="58.4" lengthAdjust="spacing">False Positive Rate</text>
<text x="311.70" y="93.65" font-size="6.6" stroke="#1a1a1a" stroke-width="0.1" text-anchor="middle" textLength="55" lengthAdjust="spacing" transform="rotate(-90 311.70 93.65)">True Positive Rate</text>
<line x1="351.00" y1="125.60" x2="364.40" y2="125.60" stroke="#2a80bd" stroke-width="1.3"/>
<text x="367.60" y="128.30" font-size="6.6" stroke="#1a1a1a" stroke-width="0.1" textLength="54.8" lengthAdjust="spacing">Train AUC = 0.92</text>
<text x="422.40" y="136.60" font-size="6.6" stroke="#1a1a1a" stroke-width="0.1" text-anchor="end" textLength="65.4" lengthAdjust="spacing">(95% CI [0.83, 1.00])</text>
<polygon points="329.80,249.60 337.00,249.60 337.00,225.00 345.00,225.00 345.00,217.70 352.20,217.70 352.20,207.40 359.30,207.40 359.30,206.80 367.30,206.80 367.30,205.00 404.00,205.00 404.00,203.00 411.00,203.00 411.00,202.00 418.40,202.00 418.40,201.60 425.00,201.60 425.00,205.00 418.40,205.00 418.40,211.90 411.00,211.90 411.00,215.00 403.30,215.00 403.30,215.80 396.20,215.80 396.20,226.20 388.70,226.20 388.70,230.00 381.40,230.00 381.40,233.30 374.00,233.30 374.00,243.00 359.40,243.00 359.40,252.40 352.40,252.40 352.40,258.00 344.40,258.00 344.40,285.60 337.00,285.60 337.00,296.60 329.80,296.60" fill="#cde4c9"/>
<line x1="329.80" y1="296.60" x2="425.00" y2="201.50" stroke="#1a1a1a" stroke-width="1.1" stroke-dasharray="1.8,1.25"/>
<rect x="329.80" y="201.50" width="95.20" height="95.10" fill="none" stroke="#3a3a3a" stroke-width="0.8"/>
<polyline points="329.80,296.60 329.80,274.40 337.00,274.40 337.00,255.00 344.30,255.00 344.30,237.60 351.70,237.60 351.70,229.70 359.30,229.70 359.30,225.40 367.00,225.40 367.00,223.30 373.50,223.30 373.50,220.60 381.40,220.60 381.40,218.20 388.70,218.20 388.70,215.80 396.20,215.80 396.20,211.00 403.30,211.00 403.30,209.50 411.00,209.50 411.00,206.30 418.40,206.30 418.40,201.70 425.00,201.70" fill="none" stroke="#2ca02c" stroke-width="1.3" stroke-linejoin="miter"/>
<line x1="327.40" y1="296.60" x2="329.80" y2="296.60" stroke="#3c3c3c" stroke-width="0.8"/>
<text x="324.90" y="299.30" font-size="7.3" stroke="#1a1a1a" stroke-width="0.1" text-anchor="end" textLength="10.0" lengthAdjust="spacingAndGlyphs">0.0</text>
<line x1="329.80" y1="296.60" x2="329.80" y2="299.00" stroke="#3c3c3c" stroke-width="0.8"/>
<text x="329.80" y="306.20" font-size="6.6" stroke="#1a1a1a" stroke-width="0.1" text-anchor="middle" textLength="9.6" lengthAdjust="spacing">0.0</text>
<line x1="327.40" y1="277.58" x2="329.80" y2="277.58" stroke="#3c3c3c" stroke-width="0.8"/>
<text x="324.90" y="280.28" font-size="7.3" stroke="#1a1a1a" stroke-width="0.1" text-anchor="end" textLength="10.0" lengthAdjust="spacingAndGlyphs">0.2</text>
<line x1="348.84" y1="296.60" x2="348.84" y2="299.00" stroke="#3c3c3c" stroke-width="0.8"/>
<text x="348.84" y="306.20" font-size="6.6" stroke="#1a1a1a" stroke-width="0.1" text-anchor="middle" textLength="9.6" lengthAdjust="spacing">0.2</text>
<line x1="327.40" y1="258.56" x2="329.80" y2="258.56" stroke="#3c3c3c" stroke-width="0.8"/>
<text x="324.90" y="261.26" font-size="7.3" stroke="#1a1a1a" stroke-width="0.1" text-anchor="end" textLength="10.0" lengthAdjust="spacingAndGlyphs">0.4</text>
<line x1="367.88" y1="296.60" x2="367.88" y2="299.00" stroke="#3c3c3c" stroke-width="0.8"/>
<text x="367.88" y="306.20" font-size="6.6" stroke="#1a1a1a" stroke-width="0.1" text-anchor="middle" textLength="9.6" lengthAdjust="spacing">0.4</text>
<line x1="327.40" y1="239.54" x2="329.80" y2="239.54" stroke="#3c3c3c" stroke-width="0.8"/>
<text x="324.90" y="242.24" font-size="7.3" stroke="#1a1a1a" stroke-width="0.1" text-anchor="end" textLength="10.0" lengthAdjust="spacingAndGlyphs">0.6</text>
<line x1="386.92" y1="296.60" x2="386.92" y2="299.00" stroke="#3c3c3c" stroke-width="0.8"/>
<text x="386.92" y="306.20" font-size="6.6" stroke="#1a1a1a" stroke-width="0.1" text-anchor="middle" textLength="9.6" lengthAdjust="spacing">0.6</text>
<line x1="327.40" y1="220.52" x2="329.80" y2="220.52" stroke="#3c3c3c" stroke-width="0.8"/>
<text x="324.90" y="223.22" font-size="7.3" stroke="#1a1a1a" stroke-width="0.1" text-anchor="end" textLength="10.0" lengthAdjust="spacingAndGlyphs">0.8</text>
<line x1="405.96" y1="296.60" x2="405.96" y2="299.00" stroke="#3c3c3c" stroke-width="0.8"/>
<text x="405.96" y="306.20" font-size="6.6" stroke="#1a1a1a" stroke-width="0.1" text-anchor="middle" textLength="9.6" lengthAdjust="spacing">0.8</text>
<line x1="327.40" y1="201.50" x2="329.80" y2="201.50" stroke="#3c3c3c" stroke-width="0.8"/>
<text x="324.90" y="204.20" font-size="7.3" stroke="#1a1a1a" stroke-width="0.1" text-anchor="end" textLength="10.0" lengthAdjust="spacingAndGlyphs">1.0</text>
<line x1="425.00" y1="296.60" x2="425.00" y2="299.00" stroke="#3c3c3c" stroke-width="0.8"/>
<text x="425.00" y="306.20" font-size="6.6" stroke="#1a1a1a" stroke-width="0.1" text-anchor="middle" textLength="9.6" lengthAdjust="spacing">1.0</text>
<text x="377.00" y="199.20" font-size="7.7" stroke="#1a1a1a" stroke-width="0.1" text-anchor="middle" textLength="12" lengthAdjust="spacingAndGlyphs">Test</text>
<text x="377.20" y="314.50" font-size="6.6" stroke="#1a1a1a" stroke-width="0.1" text-anchor="middle" textLength="58.4" lengthAdjust="spacing">False Positive Rate</text>
<text x="311.70" y="249.05" font-size="6.6" stroke="#1a1a1a" stroke-width="0.1" text-anchor="middle" textLength="55" lengthAdjust="spacing" transform="rotate(-90 311.70 249.05)">True Positive Rate</text>
<line x1="354.00" y1="281.40" x2="367.00" y2="281.40" stroke="#2ca02c" stroke-width="1.3"/>
<text x="371.00" y="284.10" font-size="6.6" stroke="#1a1a1a" stroke-width="0.1" textLength="51.4" lengthAdjust="spacing">Test AUC = 0.75</text>
<text x="422.40" y="292.20" font-size="6.6" stroke="#1a1a1a" stroke-width="0.1" text-anchor="end" textLength="64.4" lengthAdjust="spacing">(95% CI [0.63, 0.87])</text>
<line x1="465.60" y1="53.00" x2="465.60" y2="141.40" stroke="#3c3c3c" stroke-width="0.8"/>
<line x1="465.60" y1="141.40" x2="563.00" y2="141.40" stroke="#3c3c3c" stroke-width="0.8"/>
<line x1="463.00" y1="141.40" x2="465.60" y2="141.40" stroke="#3c3c3c" stroke-width="0.8"/>
<text x="460.80" y="144.15" font-size="7.6" stroke="#1a1a1a" stroke-width="0.1" text-anchor="end" textLength="10.8" lengthAdjust="spacing">0.3</text>
<line x1="463.00" y1="119.40" x2="465.60" y2="119.40" stroke="#3c3c3c" stroke-width="0.8"/>
<text x="460.80" y="122.15" font-size="7.6" stroke="#1a1a1a" stroke-width="0.1" text-anchor="end" textLength="10.8" lengthAdjust="spacing">0.4</text>
<line x1="463.00" y1="97.40" x2="465.60" y2="97.40" stroke="#3c3c3c" stroke-width="0.8"/>
<text x="460.80" y="100.15" font-size="7.6" stroke="#1a1a1a" stroke-width="0.1" text-anchor="end" textLength="10.8" lengthAdjust="spacing">0.5</text>
<line x1="463.00" y1="75.40" x2="465.60" y2="75.40" stroke="#3c3c3c" stroke-width="0.8"/>
<text x="460.80" y="78.15" font-size="7.6" stroke="#1a1a1a" stroke-width="0.1" text-anchor="end" textLength="10.8" lengthAdjust="spacing">0.6</text>
<line x1="463.00" y1="53.40" x2="465.60" y2="53.40" stroke="#3c3c3c" stroke-width="0.8"/>
<text x="460.80" y="56.15" font-size="7.6" stroke="#1a1a1a" stroke-width="0.1" text-anchor="end" textLength="10.8" lengthAdjust="spacing">0.7</text>
<line x1="490.00" y1="141.40" x2="490.00" y2="143.60" stroke="#3c3c3c" stroke-width="0.8"/>
<line x1="538.70" y1="141.40" x2="538.70" y2="143.60" stroke="#3c3c3c" stroke-width="0.8"/>
<text x="490.00" y="152.20" font-size="7.0" stroke="#1a1a1a" stroke-width="0.1" text-anchor="middle" textLength="14" lengthAdjust="spacing">Low</text>
<text x="539.00" y="152.20" font-size="7.0" stroke="#1a1a1a" stroke-width="0.1" text-anchor="middle" textLength="15.4" lengthAdjust="spacing">High</text>
<text x="446.50" y="97.40" font-size="7.0" stroke="#1a1a1a" stroke-width="0.1" text-anchor="middle" textLength="37.5" lengthAdjust="spacing" transform="rotate(-90 446.50 97.40)">Probability</text>
<line x1="466.20" y1="97.40" x2="563.00" y2="97.40" stroke="#a0a0a0" stroke-width="0.9" stroke-dasharray="9.6,3.9"/>
<line x1="490.00" y1="104.40" x2="490.00" y2="116.40" stroke="#2e2e2e" stroke-width="1.0"/>
<line x1="490.00" y1="129.40" x2="490.00" y2="134.40" stroke="#2e2e2e" stroke-width="1.0"/>
<line x1="483.43" y1="104.40" x2="496.57" y2="104.40" stroke="#2e2e2e" stroke-width="1.0"/>
<line x1="483.43" y1="134.40" x2="496.57" y2="134.40" stroke="#2e2e2e" stroke-width="1.0"/>
<rect x="477.60" y="116.40" width="24.80" height="13.00" fill="#dcdcdc" stroke="#2e2e2e" stroke-width="1.0"/>
<line x1="477.60" y1="124.40" x2="502.40" y2="124.40" stroke="#2e2e2e" stroke-width="1.0"/>
<line x1="538.70" y1="60.40" x2="538.70" y2="64.40" stroke="#2e2e2e" stroke-width="1.0"/>
<line x1="538.70" y1="72.50" x2="538.70" y2="81.40" stroke="#2e2e2e" stroke-width="1.0"/>
<line x1="532.13" y1="60.40" x2="545.27" y2="60.40" stroke="#2e2e2e" stroke-width="1.0"/>
<line x1="532.13" y1="81.40" x2="545.27" y2="81.40" stroke="#2e2e2e" stroke-width="1.0"/>
<rect x="526.30" y="64.40" width="24.80" height="8.10" fill="#3b7cb6" stroke="#2e2e2e" stroke-width="1.0"/>
<line x1="526.30" y1="68.30" x2="551.10" y2="68.30" stroke="#2e2e2e" stroke-width="1.0"/>
<circle cx="492.97" cy="123.68" r="0.75" fill="#aaa" fill-opacity="0.6" stroke="#555" stroke-width="0.3" stroke-opacity="0.8"/>
<circle cx="490.61" cy="123.00" r="0.75" fill="#aaa" fill-opacity="0.6" stroke="#555" stroke-width="0.3" stroke-opacity="0.8"/>
<circle cx="490.91" cy="123.05" r="0.75" fill="#aaa" fill-opacity="0.6" stroke="#555" stroke-width="0.3" stroke-opacity="0.8"/>
<circle cx="488.62" cy="105.53" r="0.75" fill="#aaa" fill-opacity="0.6" stroke="#555" stroke-width="0.3" stroke-opacity="0.8"/>
<circle cx="491.35" cy="126.93" r="0.75" fill="#aaa" fill-opacity="0.6" stroke="#555" stroke-width="0.3" stroke-opacity="0.8"/>
<circle cx="493.25" cy="129.17" r="0.75" fill="#aaa" fill-opacity="0.6" stroke="#555" stroke-width="0.3" stroke-opacity="0.8"/>
<circle cx="487.60" cy="111.79" r="0.75" fill="#aaa" fill-opacity="0.6" stroke="#555" stroke-width="0.3" stroke-opacity="0.8"/>
<circle cx="486.92" cy="123.27" r="0.75" fill="#aaa" fill-opacity="0.6" stroke="#555" stroke-width="0.3" stroke-opacity="0.8"/>
<circle cx="486.71" cy="119.55" r="0.75" fill="#aaa" fill-opacity="0.6" stroke="#555" stroke-width="0.3" stroke-opacity="0.8"/>
<circle cx="492.40" cy="122.13" r="0.75" fill="#aaa" fill-opacity="0.6" stroke="#555" stroke-width="0.3" stroke-opacity="0.8"/>
<circle cx="490.00" cy="124.72" r="0.75" fill="#aaa" fill-opacity="0.6" stroke="#555" stroke-width="0.3" stroke-opacity="0.8"/>
<circle cx="488.45" cy="109.89" r="0.75" fill="#aaa" fill-opacity="0.6" stroke="#555" stroke-width="0.3" stroke-opacity="0.8"/>
<circle cx="492.38" cy="134.38" r="0.75" fill="#aaa" fill-opacity="0.6" stroke="#555" stroke-width="0.3" stroke-opacity="0.8"/>
<circle cx="488.11" cy="108.18" r="0.75" fill="#aaa" fill-opacity="0.6" stroke="#555" stroke-width="0.3" stroke-opacity="0.8"/>
<circle cx="491.86" cy="117.31" r="0.75" fill="#aaa" fill-opacity="0.6" stroke="#555" stroke-width="0.3" stroke-opacity="0.8"/>
<circle cx="489.21" cy="127.41" r="0.75" fill="#aaa" fill-opacity="0.6" stroke="#555" stroke-width="0.3" stroke-opacity="0.8"/>
<circle cx="486.50" cy="133.64" r="0.75" fill="#aaa" fill-opacity="0.6" stroke="#555" stroke-width="0.3" stroke-opacity="0.8"/>
<circle cx="489.79" cy="128.23" r="0.75" fill="#aaa" fill-opacity="0.6" stroke="#555" stroke-width="0.3" stroke-opacity="0.8"/>
<circle cx="487.01" cy="131.39" r="0.75" fill="#aaa" fill-opacity="0.6" stroke="#555" stroke-width="0.3" stroke-opacity="0.8"/>
<circle cx="488.39" cy="113.74" r="0.75" fill="#aaa" fill-opacity="0.6" stroke="#555" stroke-width="0.3" stroke-opacity="0.8"/>
<circle cx="493.25" cy="120.72" r="0.75" fill="#aaa" fill-opacity="0.6" stroke="#555" stroke-width="0.3" stroke-opacity="0.8"/>
<circle cx="488.22" cy="105.82" r="0.75" fill="#aaa" fill-opacity="0.6" stroke="#555" stroke-width="0.3" stroke-opacity="0.8"/>
<circle cx="492.08" cy="117.18" r="0.75" fill="#aaa" fill-opacity="0.6" stroke="#555" stroke-width="0.3" stroke-opacity="0.8"/>
<circle cx="489.63" cy="123.67" r="0.75" fill="#aaa" fill-opacity="0.6" stroke="#555" stroke-width="0.3" stroke-opacity="0.8"/>
<circle cx="487.42" cy="125.91" r="0.75" fill="#aaa" fill-opacity="0.6" stroke="#555" stroke-width="0.3" stroke-opacity="0.8"/>
<circle cx="489.45" cy="105.80" r="0.75" fill="#aaa" fill-opacity="0.6" stroke="#555" stroke-width="0.3" stroke-opacity="0.8"/>
<circle cx="539.86" cy="69.73" r="0.75" fill="#7a98b8" fill-opacity="0.6" stroke="#333" stroke-width="0.3" stroke-opacity="0.8"/>
<circle cx="537.82" cy="64.49" r="0.75" fill="#7a98b8" fill-opacity="0.6" stroke="#333" stroke-width="0.3" stroke-opacity="0.8"/>
<circle cx="540.03" cy="70.96" r="0.75" fill="#7a98b8" fill-opacity="0.6" stroke="#333" stroke-width="0.3" stroke-opacity="0.8"/>
<circle cx="539.83" cy="62.63" r="0.75" fill="#7a98b8" fill-opacity="0.6" stroke="#333" stroke-width="0.3" stroke-opacity="0.8"/>
<circle cx="536.34" cy="67.96" r="0.75" fill="#7a98b8" fill-opacity="0.6" stroke="#333" stroke-width="0.3" stroke-opacity="0.8"/>
<circle cx="540.93" cy="73.02" r="0.75" fill="#7a98b8" fill-opacity="0.6" stroke="#333" stroke-width="0.3" stroke-opacity="0.8"/>
<circle cx="537.56" cy="69.96" r="0.75" fill="#7a98b8" fill-opacity="0.6" stroke="#333" stroke-width="0.3" stroke-opacity="0.8"/>
<circle cx="535.33" cy="71.22" r="0.75" fill="#7a98b8" fill-opacity="0.6" stroke="#333" stroke-width="0.3" stroke-opacity="0.8"/>
<circle cx="538.76" cy="71.81" r="0.75" fill="#7a98b8" fill-opacity="0.6" stroke="#333" stroke-width="0.3" stroke-opacity="0.8"/>
<circle cx="541.83" cy="72.40" r="0.75" fill="#7a98b8" fill-opacity="0.6" stroke="#333" stroke-width="0.3" stroke-opacity="0.8"/>
<circle cx="536.15" cy="67.83" r="0.75" fill="#7a98b8" fill-opacity="0.6" stroke="#333" stroke-width="0.3" stroke-opacity="0.8"/>
<circle cx="536.34" cy="69.43" r="0.75" fill="#7a98b8" fill-opacity="0.6" stroke="#333" stroke-width="0.3" stroke-opacity="0.8"/>
<circle cx="536.40" cy="60.61" r="0.75" fill="#7a98b8" fill-opacity="0.6" stroke="#333" stroke-width="0.3" stroke-opacity="0.8"/>
<circle cx="538.13" cy="76.06" r="0.75" fill="#7a98b8" fill-opacity="0.6" stroke="#333" stroke-width="0.3" stroke-opacity="0.8"/>
<circle cx="537.89" cy="68.26" r="0.75" fill="#7a98b8" fill-opacity="0.6" stroke="#333" stroke-width="0.3" stroke-opacity="0.8"/>
<circle cx="541.97" cy="70.28" r="0.75" fill="#7a98b8" fill-opacity="0.6" stroke="#333" stroke-width="0.3" stroke-opacity="0.8"/>
<circle cx="537.69" cy="78.41" r="0.75" fill="#7a98b8" fill-opacity="0.6" stroke="#333" stroke-width="0.3" stroke-opacity="0.8"/>
<circle cx="539.92" cy="69.99" r="0.75" fill="#7a98b8" fill-opacity="0.6" stroke="#333" stroke-width="0.3" stroke-opacity="0.8"/>
<circle cx="537.74" cy="66.30" r="0.75" fill="#7a98b8" fill-opacity="0.6" stroke="#333" stroke-width="0.3" stroke-opacity="0.8"/>
<circle cx="538.70" cy="70.96" r="0.75" fill="#7a98b8" fill-opacity="0.6" stroke="#333" stroke-width="0.3" stroke-opacity="0.8"/>
<circle cx="538.21" cy="71.06" r="0.75" fill="#7a98b8" fill-opacity="0.6" stroke="#333" stroke-width="0.3" stroke-opacity="0.8"/>
<circle cx="538.19" cy="66.20" r="0.75" fill="#7a98b8" fill-opacity="0.6" stroke="#333" stroke-width="0.3" stroke-opacity="0.8"/>
<circle cx="535.92" cy="70.65" r="0.75" fill="#7a98b8" fill-opacity="0.6" stroke="#333" stroke-width="0.3" stroke-opacity="0.8"/>
<circle cx="540.07" cy="65.84" r="0.75" fill="#7a98b8" fill-opacity="0.6" stroke="#333" stroke-width="0.3" stroke-opacity="0.8"/>
<circle cx="537.61" cy="66.64" r="0.75" fill="#7a98b8" fill-opacity="0.6" stroke="#333" stroke-width="0.3" stroke-opacity="0.8"/>
<circle cx="538.41" cy="60.61" r="0.75" fill="#7a98b8" fill-opacity="0.6" stroke="#333" stroke-width="0.3" stroke-opacity="0.8"/>
<circle cx="489.60" cy="96.60" r="0.6" fill="#555"/>
<circle cx="538.60" cy="83.60" r="0.6" fill="#555"/>
<circle cx="538.60" cy="88.80" r="0.6" fill="#555"/>
<polyline points="490.00,55.40 490.00,53.60 538.70,53.60 538.70,55.40" fill="none" stroke="#3c3c3c" stroke-width="0.75"/>
<text x="514.35" y="52.40" font-size="8.8" text-anchor="middle" textLength="13.8" lengthAdjust="spacing">****</text>
<text x="514.35" y="43.80" font-size="7.4" stroke="#1a1a1a" stroke-width="0.1" text-anchor="middle" textLength="16.6" lengthAdjust="spacing">Train</text>
<line x1="466.00" y1="208.60" x2="466.00" y2="297.00" stroke="#3c3c3c" stroke-width="0.8"/>
<line x1="466.00" y1="297.00" x2="563.40" y2="297.00" stroke="#3c3c3c" stroke-width="0.8"/>
<line x1="463.40" y1="297.00" x2="466.00" y2="297.00" stroke="#3c3c3c" stroke-width="0.8"/>
<text x="461.20" y="299.75" font-size="7.6" stroke="#1a1a1a" stroke-width="0.1" text-anchor="end" textLength="10.8" lengthAdjust="spacing">0.3</text>
<line x1="463.40" y1="275.00" x2="466.00" y2="275.00" stroke="#3c3c3c" stroke-width="0.8"/>
<text x="461.20" y="277.75" font-size="7.6" stroke="#1a1a1a" stroke-width="0.1" text-anchor="end" textLength="10.8" lengthAdjust="spacing">0.4</text>
<line x1="463.40" y1="253.00" x2="466.00" y2="253.00" stroke="#3c3c3c" stroke-width="0.8"/>
<text x="461.20" y="255.75" font-size="7.6" stroke="#1a1a1a" stroke-width="0.1" text-anchor="end" textLength="10.8" lengthAdjust="spacing">0.5</text>
<line x1="463.40" y1="231.00" x2="466.00" y2="231.00" stroke="#3c3c3c" stroke-width="0.8"/>
<text x="461.20" y="233.75" font-size="7.6" stroke="#1a1a1a" stroke-width="0.1" text-anchor="end" textLength="10.8" lengthAdjust="spacing">0.6</text>
<line x1="463.40" y1="209.00" x2="466.00" y2="209.00" stroke="#3c3c3c" stroke-width="0.8"/>
<text x="461.20" y="211.75" font-size="7.6" stroke="#1a1a1a" stroke-width="0.1" text-anchor="end" textLength="10.8" lengthAdjust="spacing">0.7</text>
<line x1="490.40" y1="297.00" x2="490.40" y2="299.20" stroke="#3c3c3c" stroke-width="0.8"/>
<line x1="539.10" y1="297.00" x2="539.10" y2="299.20" stroke="#3c3c3c" stroke-width="0.8"/>
<text x="490.40" y="307.80" font-size="7.0" stroke="#1a1a1a" stroke-width="0.1" text-anchor="middle" textLength="14" lengthAdjust="spacing">Low</text>
<text x="539.40" y="307.80" font-size="7.0" stroke="#1a1a1a" stroke-width="0.1" text-anchor="middle" textLength="15.4" lengthAdjust="spacing">High</text>
<text x="446.50" y="253.00" font-size="7.0" stroke="#1a1a1a" stroke-width="0.1" text-anchor="middle" textLength="37.5" lengthAdjust="spacing" transform="rotate(-90 446.50 253.00)">Probability</text>
<line x1="466.60" y1="253.00" x2="563.40" y2="253.00" stroke="#a0a0a0" stroke-width="0.9" stroke-dasharray="9.6,3.9"/>
<line x1="490.40" y1="253.40" x2="490.40" y2="261.00" stroke="#2e2e2e" stroke-width="1.0"/>
<line x1="490.40" y1="275.40" x2="490.40" y2="287.40" stroke="#2e2e2e" stroke-width="1.0"/>
<line x1="483.83" y1="253.40" x2="496.97" y2="253.40" stroke="#2e2e2e" stroke-width="1.0"/>
<line x1="483.83" y1="287.40" x2="496.97" y2="287.40" stroke="#2e2e2e" stroke-width="1.0"/>
<rect x="478.00" y="261.00" width="24.80" height="14.40" fill="#dcdcdc" stroke="#2e2e2e" stroke-width="1.0"/>
<line x1="478.00" y1="270.40" x2="502.80" y2="270.40" stroke="#2e2e2e" stroke-width="1.0"/>
<line x1="539.10" y1="229.00" x2="539.10" y2="241.40" stroke="#2e2e2e" stroke-width="1.0"/>
<line x1="539.10" y1="258.60" x2="539.10" y2="279.40" stroke="#2e2e2e" stroke-width="1.0"/>
<line x1="532.53" y1="229.00" x2="545.67" y2="229.00" stroke="#2e2e2e" stroke-width="1.0"/>
<line x1="532.53" y1="279.40" x2="545.67" y2="279.40" stroke="#2e2e2e" stroke-width="1.0"/>
<rect x="526.70" y="241.40" width="24.80" height="17.20" fill="#3b7cb6" stroke="#2e2e2e" stroke-width="1.0"/>
<line x1="526.70" y1="250.40" x2="551.50" y2="250.40" stroke="#2e2e2e" stroke-width="1.0"/>
<circle cx="491.69" cy="270.87" r="0.75" fill="#aaa" fill-opacity="0.6" stroke="#555" stroke-width="0.3" stroke-opacity="0.8"/>
<circle cx="488.51" cy="277.63" r="0.75" fill="#aaa" fill-opacity="0.6" stroke="#555" stroke-width="0.3" stroke-opacity="0.8"/>
<circle cx="492.04" cy="264.24" r="0.75" fill="#aaa" fill-opacity="0.6" stroke="#555" stroke-width="0.3" stroke-opacity="0.8"/>
<circle cx="488.40" cy="268.65" r="0.75" fill="#aaa" fill-opacity="0.6" stroke="#555" stroke-width="0.3" stroke-opacity="0.8"/>
<circle cx="492.76" cy="267.21" r="0.75" fill="#aaa" fill-opacity="0.6" stroke="#555" stroke-width="0.3" stroke-opacity="0.8"/>
<circle cx="488.83" cy="253.51" r="0.75" fill="#aaa" fill-opacity="0.6" stroke="#555" stroke-width="0.3" stroke-opacity="0.8"/>
<circle cx="492.57" cy="273.55" r="0.75" fill="#aaa" fill-opacity="0.6" stroke="#555" stroke-width="0.3" stroke-opacity="0.8"/>
<circle cx="492.11" cy="285.32" r="0.75" fill="#aaa" fill-opacity="0.6" stroke="#555" stroke-width="0.3" stroke-opacity="0.8"/>
<circle cx="488.70" cy="284.93" r="0.75" fill="#aaa" fill-opacity="0.6" stroke="#555" stroke-width="0.3" stroke-opacity="0.8"/>
<circle cx="492.19" cy="281.24" r="0.75" fill="#aaa" fill-opacity="0.6" stroke="#555" stroke-width="0.3" stroke-opacity="0.8"/>
<circle cx="489.45" cy="267.19" r="0.75" fill="#aaa" fill-opacity="0.6" stroke="#555" stroke-width="0.3" stroke-opacity="0.8"/>
<circle cx="487.72" cy="265.52" r="0.75" fill="#aaa" fill-opacity="0.6" stroke="#555" stroke-width="0.3" stroke-opacity="0.8"/>
<circle cx="540.16" cy="253.48" r="0.75" fill="#7a98b8" fill-opacity="0.6" stroke="#333" stroke-width="0.3" stroke-opacity="0.8"/>
<circle cx="537.39" cy="264.24" r="0.75" fill="#7a98b8" fill-opacity="0.6" stroke="#333" stroke-width="0.3" stroke-opacity="0.8"/>
<circle cx="537.72" cy="237.16" r="0.75" fill="#7a98b8" fill-opacity="0.6" stroke="#333" stroke-width="0.3" stroke-opacity="0.8"/>
<circle cx="541.04" cy="233.92" r="0.75" fill="#7a98b8" fill-opacity="0.6" stroke="#333" stroke-width="0.3" stroke-opacity="0.8"/>
<circle cx="541.91" cy="245.24" r="0.75" fill="#7a98b8" fill-opacity="0.6" stroke="#333" stroke-width="0.3" stroke-opacity="0.8"/>
<circle cx="541.23" cy="245.88" r="0.75" fill="#7a98b8" fill-opacity="0.6" stroke="#333" stroke-width="0.3" stroke-opacity="0.8"/>
<circle cx="539.46" cy="230.86" r="0.75" fill="#7a98b8" fill-opacity="0.6" stroke="#333" stroke-width="0.3" stroke-opacity="0.8"/>
<circle cx="540.16" cy="231.05" r="0.75" fill="#7a98b8" fill-opacity="0.6" stroke="#333" stroke-width="0.3" stroke-opacity="0.8"/>
<circle cx="536.18" cy="247.20" r="0.75" fill="#7a98b8" fill-opacity="0.6" stroke="#333" stroke-width="0.3" stroke-opacity="0.8"/>
<circle cx="538.43" cy="258.22" r="0.75" fill="#7a98b8" fill-opacity="0.6" stroke="#333" stroke-width="0.3" stroke-opacity="0.8"/>
<circle cx="539.85" cy="267.72" r="0.75" fill="#7a98b8" fill-opacity="0.6" stroke="#333" stroke-width="0.3" stroke-opacity="0.8"/>
<circle cx="539.60" cy="288.60" r="0.6" fill="#555"/>
<polyline points="490.40,225.80 490.40,224.00 539.10,224.00 539.10,225.80" fill="none" stroke="#3c3c3c" stroke-width="0.75"/>
<text x="514.75" y="222.60" font-size="8.8" text-anchor="middle" textLength="3.45" lengthAdjust="spacing">*</text>
<text x="507.90" y="200.20" font-size="7.4" stroke="#1a1a1a" stroke-width="0.1" text-anchor="middle" textLength="13.6" lengthAdjust="spacing">Test</text>
<rect x="606.30" y="56.00" width="36.70" height="36.50" fill="#e2e2e2"/>
<rect x="643.00" y="56.00" width="36.00" height="36.50" fill="#404040"/>
<rect x="606.30" y="92.50" width="36.70" height="35.90" fill="#262626"/>
<rect x="643.00" y="92.50" width="36.00" height="35.90" fill="#f4f4f4"/>
<rect x="606.30" y="56.00" width="72.70" height="72.40" fill="none" stroke="#333" stroke-width="0.9"/>
<text x="624.50" y="76.80" font-size="7.4" stroke="#1a1a1a" stroke-width="0.1" text-anchor="middle">96%</text>
<text x="662.60" y="76.80" font-size="7.4" stroke="#ffffff" stroke-width="0.1" text-anchor="middle" fill="#ffffff">4%</text>
<text x="624.50" y="113.30" font-size="7.4" stroke="#ffffff" stroke-width="0.1" text-anchor="middle" fill="#ffffff">0%</text>
<text x="661.00" y="113.30" font-size="7.4" stroke="#1a1a1a" stroke-width="0.1" text-anchor="middle">100%</text>
<text x="592.60" y="73.80" font-size="7.2" stroke="#1a1a1a" stroke-width="0.1" text-anchor="middle" textLength="13" lengthAdjust="spacingAndGlyphs">Low</text>
<text x="592.60" y="81.80" font-size="7.2" stroke="#1a1a1a" stroke-width="0.1" text-anchor="middle" textLength="24" lengthAdjust="spacing">(n=28)</text>
<text x="592.80" y="110.30" font-size="7.2" stroke="#1a1a1a" stroke-width="0.1" text-anchor="middle" textLength="15.4" lengthAdjust="spacing">High</text>
<text x="592.60" y="118.30" font-size="7.2" stroke="#1a1a1a" stroke-width="0.1" text-anchor="middle" textLength="24" lengthAdjust="spacing">(n=29)</text>
<text x="576.20" y="92.20" font-size="7.2" stroke="#1a1a1a" stroke-width="0.1" text-anchor="middle" textLength="45.3" lengthAdjust="spacing" transform="rotate(-90 576.20 92.20)">Ground Truth</text>
<text x="624.80" y="136.40" font-size="7.2" stroke="#1a1a1a" stroke-width="0.1" text-anchor="middle" textLength="13.6" lengthAdjust="spacing">Low</text>
<text x="660.70" y="136.40" font-size="7.2" stroke="#1a1a1a" stroke-width="0.1" text-anchor="middle" textLength="16.6" lengthAdjust="spacing">High</text>
<text x="642.80" y="146.30" font-size="7.2" stroke="#1a1a1a" stroke-width="0.1" text-anchor="middle" textLength="34.4" lengthAdjust="spacing">Prediction</text>
<text x="642.80" y="44.20" font-size="7.4" stroke="#1a1a1a" stroke-width="0.1" text-anchor="middle" textLength="16.6" lengthAdjust="spacing">Train</text>
<text x="643.60" y="52.30" font-size="7.3" stroke="#1a1a1a" stroke-width="0.1" text-anchor="middle" textLength="82.2" lengthAdjust="spacing">(AUC=0.92, <tspan font-style="italic">P</tspan> &lt; 0.0001)</text>
<rect x="606.30" y="212.00" width="35.70" height="36.50" fill="#ffffff"/>
<rect x="642.00" y="212.00" width="37.00" height="36.50" fill="#000000"/>
<rect x="606.30" y="248.50" width="35.70" height="35.90" fill="#808080"/>
<rect x="642.00" y="248.50" width="37.00" height="35.90" fill="#808080"/>
<rect x="606.30" y="212.00" width="72.70" height="72.40" fill="none" stroke="#333" stroke-width="0.9"/>
<text x="624.50" y="232.80" font-size="7.4" stroke="#1a1a1a" stroke-width="0.1" text-anchor="middle">100%</text>
<text x="660.80" y="232.80" font-size="7.4" stroke="#ffffff" stroke-width="0.1" text-anchor="middle" fill="#ffffff">0%</text>
<text x="624.50" y="269.30" font-size="7.4" stroke="#1a1a1a" stroke-width="0.1" text-anchor="middle">50%</text>
<text x="661.00" y="269.30" font-size="7.4" stroke="#1a1a1a" stroke-width="0.1" text-anchor="middle">50%</text>
<text x="592.60" y="229.80" font-size="7.2" stroke="#1a1a1a" stroke-width="0.1" text-anchor="middle" textLength="13" lengthAdjust="spacingAndGlyphs">Low</text>
<text x="592.60" y="237.80" font-size="7.2" stroke="#1a1a1a" stroke-width="0.1" text-anchor="middle" textLength="24" lengthAdjust="spacing">(n=13)</text>
<text x="592.80" y="266.30" font-size="7.2" stroke="#1a1a1a" stroke-width="0.1" text-anchor="middle" textLength="15.4" lengthAdjust="spacing">High</text>
<text x="592.60" y="274.30" font-size="7.2" stroke="#1a1a1a" stroke-width="0.1" text-anchor="middle" textLength="24" lengthAdjust="spacing">(n=12)</text>
<text x="576.20" y="248.20" font-size="7.2" stroke="#1a1a1a" stroke-width="0.1" text-anchor="middle" textLength="45.3" lengthAdjust="spacing" transform="rotate(-90 576.20 248.20)">Ground Truth</text>
<text x="624.80" y="292.40" font-size="7.2" stroke="#1a1a1a" stroke-width="0.1" text-anchor="middle" textLength="13.6" lengthAdjust="spacing">Low</text>
<text x="660.70" y="292.40" font-size="7.2" stroke="#1a1a1a" stroke-width="0.1" text-anchor="middle" textLength="16.6" lengthAdjust="spacing">High</text>
<text x="642.80" y="302.30" font-size="7.2" stroke="#1a1a1a" stroke-width="0.1" text-anchor="middle" textLength="34.4" lengthAdjust="spacing">Prediction</text>
<text x="642.80" y="200.20" font-size="7.4" stroke="#1a1a1a" stroke-width="0.1" text-anchor="middle" textLength="13.6" lengthAdjust="spacing">Test</text>
<text x="642.20" y="208.30" font-size="7.3" stroke="#1a1a1a" stroke-width="0.1" text-anchor="middle" textLength="79" lengthAdjust="spacing">(AUC=0.75, <tspan font-style="italic">P</tspan>=0.0052)</text>
</svg>
</body></html>
